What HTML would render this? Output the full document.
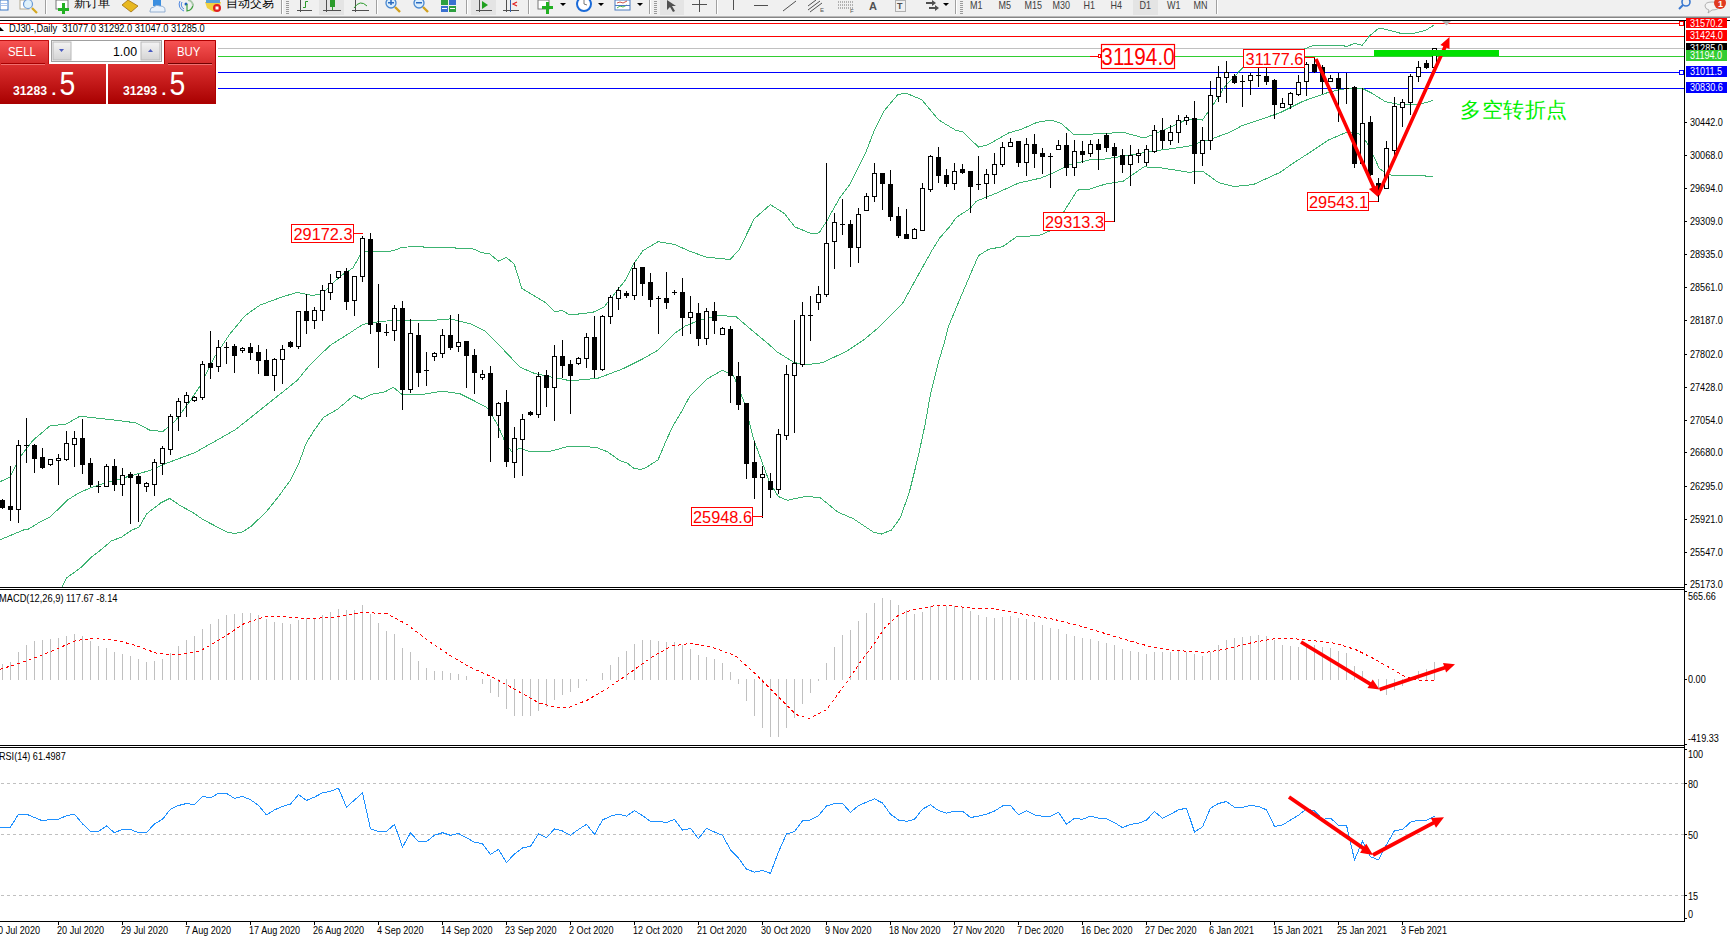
<!DOCTYPE html><html><head><meta charset="utf-8"><style>html,body{margin:0;padding:0;background:#fff;width:1730px;height:940px;overflow:hidden}svg{display:block}text{font-family:"Liberation Sans",sans-serif}</style></head><body>
<svg width="1730" height="940" viewBox="0 0 1730 940">
<rect x="0" y="0" width="1730" height="940" fill="#ffffff"/>
<g id="toolbar">
<rect x="0" y="0" width="1730" height="16" fill="#f0f0f0"/>
<rect x="0" y="16" width="1730" height="1" fill="#b9b9b9"/>
<rect x="0" y="17" width="1730" height="1" fill="#858585"/>
<g id="tb">
<rect x="45" y="0" width="1" height="14" fill="#a0a0a0"/><rect x="46" y="0" width="1" height="14" fill="#ffffff"/>
<rect x="281" y="0" width="1" height="14" fill="#a0a0a0"/><rect x="282" y="0" width="1" height="14" fill="#ffffff"/>
<rect x="376" y="0" width="1" height="14" fill="#a0a0a0"/><rect x="377" y="0" width="1" height="14" fill="#ffffff"/>
<rect x="466" y="0" width="1" height="14" fill="#a0a0a0"/><rect x="467" y="0" width="1" height="14" fill="#ffffff"/>
<rect x="528" y="0" width="1" height="14" fill="#a0a0a0"/><rect x="529" y="0" width="1" height="14" fill="#ffffff"/>
<rect x="649" y="0" width="1" height="14" fill="#a0a0a0"/><rect x="650" y="0" width="1" height="14" fill="#ffffff"/>
<rect x="716" y="0" width="1" height="14" fill="#a0a0a0"/><rect x="717" y="0" width="1" height="14" fill="#ffffff"/>
<rect x="955" y="0" width="1" height="14" fill="#a0a0a0"/><rect x="956" y="0" width="1" height="14" fill="#ffffff"/>
<rect x="1216" y="0" width="1" height="14" fill="#a0a0a0"/><rect x="1217" y="0" width="1" height="14" fill="#ffffff"/>
<rect x="286" y="1" width="3" height="1" fill="#9a9a9a"/>
<rect x="286" y="3" width="3" height="1" fill="#9a9a9a"/>
<rect x="286" y="5" width="3" height="1" fill="#9a9a9a"/>
<rect x="286" y="7" width="3" height="1" fill="#9a9a9a"/>
<rect x="286" y="9" width="3" height="1" fill="#9a9a9a"/>
<rect x="286" y="11" width="3" height="1" fill="#9a9a9a"/>
<rect x="286" y="13" width="3" height="1" fill="#9a9a9a"/>
<rect x="471" y="1" width="3" height="1" fill="#9a9a9a"/>
<rect x="471" y="3" width="3" height="1" fill="#9a9a9a"/>
<rect x="471" y="5" width="3" height="1" fill="#9a9a9a"/>
<rect x="471" y="7" width="3" height="1" fill="#9a9a9a"/>
<rect x="471" y="9" width="3" height="1" fill="#9a9a9a"/>
<rect x="471" y="11" width="3" height="1" fill="#9a9a9a"/>
<rect x="471" y="13" width="3" height="1" fill="#9a9a9a"/>
<rect x="654" y="1" width="3" height="1" fill="#9a9a9a"/>
<rect x="654" y="3" width="3" height="1" fill="#9a9a9a"/>
<rect x="654" y="5" width="3" height="1" fill="#9a9a9a"/>
<rect x="654" y="7" width="3" height="1" fill="#9a9a9a"/>
<rect x="654" y="9" width="3" height="1" fill="#9a9a9a"/>
<rect x="654" y="11" width="3" height="1" fill="#9a9a9a"/>
<rect x="654" y="13" width="3" height="1" fill="#9a9a9a"/>
<rect x="960" y="1" width="3" height="1" fill="#9a9a9a"/>
<rect x="960" y="3" width="3" height="1" fill="#9a9a9a"/>
<rect x="960" y="5" width="3" height="1" fill="#9a9a9a"/>
<rect x="960" y="7" width="3" height="1" fill="#9a9a9a"/>
<rect x="960" y="9" width="3" height="1" fill="#9a9a9a"/>
<rect x="960" y="11" width="3" height="1" fill="#9a9a9a"/>
<rect x="960" y="13" width="3" height="1" fill="#9a9a9a"/>
<rect x="319" y="0" width="25" height="15" fill="#e4e4e4"/>
<rect x="471" y="0" width="25" height="15" fill="#e4e4e4"/>
<rect x="660" y="0" width="24" height="15" fill="#e4e4e4"/>
<rect x="1133" y="0" width="25" height="15" fill="#e4e4e4"/>
<rect x="0" y="0" width="8" height="10" fill="#fff" stroke="#3a78c8" stroke-width="1"/><rect x="1" y="3" width="6" height="1" fill="#aac4ee"/><rect x="1" y="5" width="6" height="1" fill="#aac4ee"/>
<rect x="20" y="0" width="9" height="9" fill="#fff" stroke="#b0a890"/><circle cx="28" cy="4" r="4.5" fill="#dff1fb" stroke="#6a9ad6" stroke-width="1.2"/><line x1="32" y1="8" x2="37" y2="13" stroke="#d4a820" stroke-width="2.2"/>
<rect x="56" y="0" width="12" height="9" fill="#fff" stroke="#777"/><rect x="62" y="6" width="3" height="11" fill="#22b022" transform="translate(0,-3)"/><rect x="58" y="8" width="11" height="3" fill="#22b022"/>
<text transform="translate(74,7) scale(1,1)" font-size="12" fill="#000" text-anchor="start" font-weight="normal" style="font-family:"Liberation Sans",sans-serif" >新订单</text>
<path d="M122,5 L128,0 L138,6 L131,12 Z" fill="#e8b820" stroke="#a07010" stroke-width="0.8"/>
<rect x="153" y="0" width="8" height="6" fill="#3a8ee0"/><path d="M150,11 Q150,7 154,7 Q156,4 160,6 Q165,6 165,10 L165,12 L150,12 Z" fill="#eaf2fb" stroke="#7da0c8" stroke-width="0.8"/>
<path d="M180,1 A7,7 0 0 0 184,11" fill="none" stroke="#4d86e0" stroke-width="1"/><path d="M182,2 A5,5 0 0 0 184,9" fill="none" stroke="#4d86e0" stroke-width="1"/><circle cx="186" cy="4" r="1.5" fill="#2060c0"/><path d="M187,4 L187,11 Q193,10 193,4" fill="none" stroke="#40a040" stroke-width="1.2"/><path d="M188,0 A6,6 0 0 1 193,6" fill="none" stroke="#a8c8a8" stroke-width="2"/>
<path d="M205,2 L221,2 L219,9 L214,12 L207,8 Z" fill="#f0d040"/><rect x="206" y="0" width="14" height="3" fill="#5aa0d8"/><circle cx="217" cy="8" r="4" fill="#e02020"/><rect x="215.5" y="6.5" width="3" height="3" fill="#fff"/>
<text transform="translate(226,7) scale(1,1)" font-size="12" fill="#000" text-anchor="start" font-weight="normal" style="font-family:"Liberation Sans",sans-serif" >自动交易</text>
<path d="M300.5,0 L300.5,12 M297,10.5 L312,10.5" fill="none" stroke="#505050" stroke-width="1"/><path d="M303,7.5 L305.5,7.5 L305.5,1.5 L308,1.5" fill="none" stroke="#2a9a2a" stroke-width="1"/>
<path d="M326.5,0 L326.5,12 M323,10.5 L341,10.5" fill="none" stroke="#505050" stroke-width="1"/><rect x="330" y="0" width="5" height="7" fill="#2a9a2a"/><rect x="332" y="7" width="1" height="3" fill="#2a9a2a"/>
<path d="M355.5,0 L355.5,12 M352,10.5 L369,10.5" fill="none" stroke="#505050" stroke-width="1"/><path d="M354,8 Q360,-1 367,6" fill="none" stroke="#2a9a2a" stroke-width="1"/>
<circle cx="391" cy="3" r="5" fill="#dbeefc" stroke="#4a88d0" stroke-width="1.3"/><line x1="395" y1="7" x2="400" y2="12" stroke="#d0a020" stroke-width="2.4"/>
<rect x="388" y="2" width="6" height="1.5" fill="#2a6ac0"/>
<rect x="390.25" y="-1" width="1.5" height="6" fill="#2a6ac0"/>
<circle cx="419" cy="3" r="5" fill="#dbeefc" stroke="#4a88d0" stroke-width="1.3"/><line x1="423" y1="7" x2="428" y2="12" stroke="#d0a020" stroke-width="2.4"/>
<rect x="416" y="2" width="6" height="1.5" fill="#2a6ac0"/>
<rect x="441" y="0" width="7" height="5" fill="#2ea040"/><rect x="449" y="0" width="7" height="5" fill="#3a70d0"/><rect x="441" y="6" width="7" height="6" fill="#3a70d0"/><rect x="449" y="6" width="7" height="6" fill="#2ea040"/><rect x="442" y="8" width="5" height="1" fill="#fff"/><rect x="450" y="8" width="5" height="1" fill="#fff"/>
<path d="M479.5,0 L479.5,12 M476,10.5 L492,10.5" fill="none" stroke="#505050" stroke-width="1"/><path d="M482,1 L488,5 L482,9 Z" fill="#20a020"/>
<path d="M506.5,0 L506.5,12 M503,10.5 L519,10.5" fill="none" stroke="#505050" stroke-width="1"/><rect x="510" y="0" width="1" height="12" fill="#3060b0"/><path d="M517,2 L513,4 L517,6" fill="none" stroke="#e02020" stroke-width="1.2"/>
<rect x="538" y="0" width="11" height="9" fill="#fff" stroke="#777"/><rect x="546" y="2" width="3" height="12" fill="#22b022"/><rect x="542" y="6" width="11" height="3" fill="#22b022"/>
<path d="M560,3 L566,3 L563,6 Z" fill="#000"/>
<path d="M598,3 L604,3 L601,6 Z" fill="#000"/>
<path d="M637,3 L643,3 L640,6 Z" fill="#000"/>
<path d="M943,3 L949,3 L946,6 Z" fill="#000"/>
<circle cx="584" cy="4" r="7" fill="#fff" stroke="#1a6ad8" stroke-width="2"/><path d="M584,0 L584,4 L587,5" fill="none" stroke="#555" stroke-width="0.8"/>
<rect x="615" y="0" width="15" height="10" fill="#fff" stroke="#4a7ac0"/><path d="M617,3 L620,2 L623,3 L627,1" fill="none" stroke="#c03020" stroke-width="0.8"/><path d="M617,8 L620,6 L623,7 L627,5" fill="none" stroke="#20a020" stroke-width="0.8"/><rect x="615" y="5" width="15" height="1" fill="#4a7ac0"/>
<path d="M667,0 L676,6 L672,6 L675,11 L673,12 L670,7 L667,10 Z" fill="#505050"/>
<path d="M692,4.5 L707,4.5 M699.5,0 L699.5,12" stroke="#505050" stroke-width="1"/>
<rect x="733" y="0" width="1" height="10" fill="#505050"/>
<rect x="754" y="5" width="14" height="1" fill="#505050"/>
<line x1="783" y1="11" x2="796" y2="1" stroke="#505050" stroke-width="1"/>
<path d="M808,6 L816,0 M808,10 L820,1 M810,12 L822,3" stroke="#505050" stroke-width="1"/>
<text transform="translate(820,12) scale(1,1)" font-size="6" fill="#505050" text-anchor="start" font-weight="normal" style="font-family:"Liberation Sans",sans-serif" >E</text>
<path d="M838,2 L854,2 M838,5 L854,5 M838,8 L854,8" stroke="#707070" stroke-width="1" stroke-dasharray="1,1"/>
<text transform="translate(850,13) scale(1,1)" font-size="6" fill="#505050" text-anchor="start" font-weight="normal" style="font-family:"Liberation Sans",sans-serif" >F</text>
<text transform="translate(869,10) scale(1,1)" font-size="11" fill="#505050" text-anchor="start" font-weight="bold" style="font-family:"Liberation Sans",sans-serif" >A</text>
<rect x="895.5" y="0.5" width="10" height="11" fill="none" stroke="#707070" stroke-dasharray="1,1"/>
<text transform="translate(897,9) scale(1,1)" font-size="9" fill="#505050" text-anchor="start" font-weight="bold" style="font-family:"Liberation Sans",sans-serif" >T</text>
<path d="M926,2 L932,2 L932,0 L936,3 L932,6 L932,4 L926,4 Z M929,7 L935,7 L935,5 L939,8 L935,11 L935,9 L929,9 Z" fill="#505050"/>
<text transform="translate(970,8.5) scale(0.9,1)" font-size="10" fill="#404040" text-anchor="start" font-weight="normal" style="font-family:"Liberation Sans",sans-serif" >M1</text>
<text transform="translate(998.5,8.5) scale(0.9,1)" font-size="10" fill="#404040" text-anchor="start" font-weight="normal" style="font-family:"Liberation Sans",sans-serif" >M5</text>
<text transform="translate(1024.4,8.5) scale(0.9,1)" font-size="10" fill="#404040" text-anchor="start" font-weight="normal" style="font-family:"Liberation Sans",sans-serif" >M15</text>
<text transform="translate(1052.5,8.5) scale(0.9,1)" font-size="10" fill="#404040" text-anchor="start" font-weight="normal" style="font-family:"Liberation Sans",sans-serif" >M30</text>
<text transform="translate(1083.5,8.5) scale(0.9,1)" font-size="10" fill="#404040" text-anchor="start" font-weight="normal" style="font-family:"Liberation Sans",sans-serif" >H1</text>
<text transform="translate(1110.5,8.5) scale(0.9,1)" font-size="10" fill="#404040" text-anchor="start" font-weight="normal" style="font-family:"Liberation Sans",sans-serif" >H4</text>
<text transform="translate(1139.6,8.5) scale(0.9,1)" font-size="10" fill="#404040" text-anchor="start" font-weight="normal" style="font-family:"Liberation Sans",sans-serif" >D1</text>
<text transform="translate(1167,8.5) scale(0.9,1)" font-size="10" fill="#404040" text-anchor="start" font-weight="normal" style="font-family:"Liberation Sans",sans-serif" >W1</text>
<text transform="translate(1193.5,8.5) scale(0.9,1)" font-size="10" fill="#404040" text-anchor="start" font-weight="normal" style="font-family:"Liberation Sans",sans-serif" >MN</text>
<circle cx="1686" cy="2" r="4" fill="none" stroke="#3a78d0" stroke-width="1.6"/><line x1="1683" y1="5" x2="1679" y2="9" stroke="#3a78d0" stroke-width="2"/>
<path d="M1705,6 Q1705,2 1712,2 Q1719,2 1719,6 Q1719,10 1712,10 L1708,13 L1709,10 Q1705,9 1705,6 Z" fill="#f4f4f4" stroke="#a0a0a0" stroke-width="0.8"/>
<circle cx="1720" cy="3" r="6" fill="#e03a20"/>
<text transform="translate(1718,7) scale(1,1)" font-size="9" fill="#fff" text-anchor="start" font-weight="bold" style="font-family:"Liberation Sans",sans-serif" >1</text>
</g>
</g>
<g shape-rendering="crispEdges">
<rect x="0" y="20" width="1730" height="1" fill="#000"/>
<rect x="1684" y="20" width="1" height="902" fill="#000"/>
<rect x="0" y="587" width="1685" height="1" fill="#000"/>
<rect x="0" y="589" width="1685" height="1" fill="#000"/>
<rect x="0" y="745" width="1685" height="1" fill="#000"/>
<rect x="0" y="747" width="1685" height="1" fill="#000"/>
<rect x="0" y="921" width="1685" height="1" fill="#000"/>
</g>
<g shape-rendering="crispEdges">
<rect x="0" y="23" width="1684" height="1" fill="#ff0000"/>
<rect x="0" y="36" width="1684" height="1" fill="#ff0000"/>
<rect x="218" y="48" width="1466" height="1" fill="#c0c0c0"/>
<rect x="218" y="56" width="1466" height="1" fill="#32cd32"/>
<rect x="218" y="72" width="1466" height="1" fill="#0000ff"/>
<rect x="218" y="88" width="1466" height="1" fill="#0000ff"/>
</g>
<polyline points="0.0,481.7 10.0,477.2 20.0,457.0 33.0,440.3 50.0,425.8 66.0,424.2 80.0,416.2 100.0,418.4 120.0,420.7 136.0,422.9 150.0,430.3 163.0,431.4 175.0,421.3 190.0,401.2 200.0,386.0 215.0,356.2 230.0,333.8 245.0,315.7 260.0,305.1 280.0,297.7 297.0,292.3 312.0,295.5 322.0,294.0 340.0,276.4 353.0,267.9 362.0,251.9 389.5,251.4 395.8,249.9 401.6,247.4 415.0,246.5 423.0,246.5 424.0,247.4 455.0,247.4 456.0,248.6 471.0,248.6 475.6,249.7 481.4,252.6 489.5,253.8 498.7,261.3 506.2,257.2 514.3,264.2 521.8,288.4 540.3,299.4 545.0,302.3 555.0,311.9 562.0,310.4 570.0,315.0 593.0,312.3 604.0,307.0 626.0,279.4 634.0,263.4 643.0,250.6 658.0,241.7 674.0,244.3 691.0,251.7 706.0,257.0 730.0,259.6 739.0,250.0 754.3,218.7 770.4,204.6 784.6,213.7 794.7,226.8 810.9,233.5 819.0,232.9 826.0,222.2 840.0,197.4 850.2,183.8 865.5,153.2 874.0,131.1 884.3,110.6 897.9,94.5 906.4,93.3 921.7,99.6 938.7,120.0 955.7,130.2 962.6,131.9 978.7,147.2 988.1,144.7 1000.0,137.9 1008.7,132.9 1020.8,129.5 1037.0,122.4 1051.0,120.0 1061.2,123.4 1074.3,135.0 1089.5,134.1 1100.0,133.8 1123.0,132.3 1144.0,138.0 1157.4,132.9 1176.6,124.3 1188.0,118.9 1202.4,120.0 1213.0,105.1 1224.5,86.9 1242.7,67.8 1304.8,48.7 1314.0,45.2 1341.8,45.2 1346.4,46.6 1354.8,43.3 1362.2,45.4 1369.6,35.7 1378.8,28.3 1383.4,28.8 1401.0,33.4 1413.0,33.4 1426.0,30.2 1434.0,25.0" fill="none" stroke="#3cb371" stroke-width="1" shape-rendering="crispEdges"/>
<polyline points="0.0,539.8 23.5,530.0 28.0,529.3 40.0,522.0 50.2,516.9 68.0,499.7 78.1,493.4 90.9,487.6 106.1,482.5 116.3,480.0 130.0,476.0 150.0,470.5 165.0,463.8 180.0,458.2 195.0,452.6 220.0,438.4 235.3,429.8 254.5,414.5 273.6,399.2 287.0,388.6 297.6,380.0 310.0,364.7 330.0,345.5 350.0,332.8 363.0,324.3 380.0,321.5 400.0,320.0 420.0,320.0 437.0,320.0 450.0,318.9 470.0,323.6 485.0,331.0 500.0,346.0 520.0,367.2 535.0,373.6 550.0,376.8 565.0,379.6 570.0,380.9 597.7,378.3 623.2,368.7 642.3,359.1 657.2,350.6 674.3,333.6 684.9,326.2 697.7,320.9 719.0,315.5 736.0,316.6 750.9,329.4 770.0,345.3 776.0,351.2 794.0,362.4 805.5,364.7 818.3,363.4 823.0,362.4 846.8,351.2 863.6,340.0 877.0,328.9 902.5,303.4 923.0,266.4 932.2,250.0 940.0,237.6 950.4,225.8 956.2,217.4 970.0,208.6 976.4,201.2 996.6,193.1 1018.8,183.0 1041.0,178.0 1053.0,172.9 1069.3,164.8 1089.5,159.8 1100.0,159.7 1119.0,156.8 1153.6,151.1 1188.0,146.3 1214.9,137.7 1230.0,132.2 1241.7,125.8 1280.0,112.8 1303.4,101.1 1326.8,92.9 1340.9,89.4 1350.2,88.2 1361.9,88.2 1371.3,92.9 1385.3,101.6 1397.0,104.0 1420.5,104.0 1433.3,100.5" fill="none" stroke="#3cb371" stroke-width="1" shape-rendering="crispEdges"/>
<polyline points="62.3,586.8 66.7,577.9 80.7,567.7 90.9,557.6 102.3,548.7 111.2,541.0 121.4,537.2 131.6,530.2 139.2,527.0 146.8,513.7 160.8,502.9 169.7,498.4 179.9,505.4 192.6,512.4 202.8,519.4 226.9,532.1 234.6,533.4 242.2,532.1 250.7,526.6 266.0,512.2 277.5,497.8 290.9,479.6 298.5,464.3 306.2,443.2 313.9,430.8 323.4,417.4 336.9,409.7 354.1,395.3 361.8,399.2 371.3,394.4 384.8,391.9 393.4,387.3 402.0,394.4 420.0,394.9 442.0,391.1 460.0,393.8 475.0,401.3 487.0,407.7 497.0,423.6 505.0,441.7 512.0,452.3 520.0,448.1 530.0,451.9 550.0,451.3 568.5,446.4 582.6,446.4 596.6,447.5 607.7,451.9 619.6,460.4 627.2,463.0 634.0,468.5 640.9,469.4 645.1,468.1 657.9,460.0 662.1,450.2 667.2,438.3 673.2,425.5 680.9,412.8 690.0,395.9 706.8,379.2 722.5,370.2 733.6,375.8 744.8,403.7 753.7,439.5 769.4,482.0 778.3,496.5 787.3,500.3 805.1,496.5 820.0,497.5 837.9,512.1 853.5,518.8 873.6,532.2 881.5,534.0 891.5,530.0 900.4,517.7 909.4,492.0 918.3,456.2 925.0,424.9 930.6,393.6 938.4,362.3 945.1,340.0 948.5,326.4 960.0,298.8 972.3,269.9 978.4,255.8 988.5,249.3 1002.6,246.7 1016.8,236.6 1039.0,235.6 1053.0,229.5 1065.3,209.3 1077.4,190.1 1089.5,189.1 1105.7,184.0 1123.0,181.3 1144.0,166.8 1161.3,167.9 1188.0,172.1 1203.4,171.7 1218.7,182.7 1233.9,186.5 1253.2,184.6 1280.0,172.4 1291.7,164.2 1315.1,149.0 1329.1,139.7 1345.5,132.7 1358.4,133.2 1366.6,142.0 1373.6,156.0 1379.5,168.9 1391.2,175.3 1420.5,175.3 1433.3,177.1" fill="none" stroke="#3cb371" stroke-width="1" shape-rendering="crispEdges"/>
<g shape-rendering="crispEdges">
<rect x="2" y="499" width="1" height="10" fill="#000"/>
<rect x="0" y="500" width="5" height="8" fill="#000"/>
<rect x="10" y="466" width="1" height="55" fill="#000"/>
<rect x="8" y="506" width="5" height="4" fill="#000"/>
<rect x="18" y="440" width="1" height="83" fill="#000"/>
<rect x="16" y="445" width="5" height="65" fill="#000"/>
<rect x="17" y="446" width="3" height="63" fill="#fff"/>
<rect x="26" y="418" width="1" height="45" fill="#000"/>
<rect x="24" y="445" width="5" height="1" fill="#000"/>
<rect x="34" y="444" width="1" height="29" fill="#000"/>
<rect x="32" y="445" width="5" height="14" fill="#000"/>
<rect x="42" y="448" width="1" height="21" fill="#000"/>
<rect x="40" y="457" width="5" height="11" fill="#000"/>
<rect x="50" y="459" width="1" height="7" fill="#000"/>
<rect x="48" y="459" width="5" height="6" fill="#000"/>
<rect x="49" y="460" width="3" height="4" fill="#fff"/>
<rect x="58" y="454" width="1" height="31" fill="#000"/>
<rect x="56" y="458" width="5" height="3" fill="#000"/>
<rect x="57" y="459" width="3" height="1" fill="#fff"/>
<rect x="66" y="431" width="1" height="30" fill="#000"/>
<rect x="64" y="443" width="5" height="17" fill="#000"/>
<rect x="65" y="444" width="3" height="15" fill="#fff"/>
<rect x="74" y="431" width="1" height="36" fill="#000"/>
<rect x="72" y="438" width="5" height="7" fill="#000"/>
<rect x="73" y="439" width="3" height="5" fill="#fff"/>
<rect x="82" y="419" width="1" height="55" fill="#000"/>
<rect x="80" y="438" width="5" height="27" fill="#000"/>
<rect x="90" y="458" width="1" height="29" fill="#000"/>
<rect x="88" y="463" width="5" height="22" fill="#000"/>
<rect x="98" y="481" width="1" height="12" fill="#000"/>
<rect x="96" y="486" width="5" height="1" fill="#000"/>
<rect x="106" y="464" width="1" height="23" fill="#000"/>
<rect x="104" y="466" width="5" height="21" fill="#000"/>
<rect x="105" y="467" width="3" height="19" fill="#fff"/>
<rect x="114" y="459" width="1" height="32" fill="#000"/>
<rect x="112" y="466" width="5" height="19" fill="#000"/>
<rect x="122" y="468" width="1" height="28" fill="#000"/>
<rect x="120" y="475" width="5" height="10" fill="#000"/>
<rect x="121" y="476" width="3" height="8" fill="#fff"/>
<rect x="130" y="472" width="1" height="52" fill="#000"/>
<rect x="128" y="474" width="5" height="4" fill="#000"/>
<rect x="138" y="474" width="1" height="48" fill="#000"/>
<rect x="136" y="476" width="5" height="8" fill="#000"/>
<rect x="146" y="482" width="1" height="10" fill="#000"/>
<rect x="144" y="483" width="5" height="4" fill="#000"/>
<rect x="145" y="484" width="3" height="2" fill="#fff"/>
<rect x="154" y="459" width="1" height="37" fill="#000"/>
<rect x="152" y="462" width="5" height="23" fill="#000"/>
<rect x="153" y="463" width="3" height="21" fill="#fff"/>
<rect x="162" y="446" width="1" height="29" fill="#000"/>
<rect x="160" y="448" width="5" height="16" fill="#000"/>
<rect x="161" y="449" width="3" height="14" fill="#fff"/>
<rect x="170" y="414" width="1" height="41" fill="#000"/>
<rect x="168" y="416" width="5" height="34" fill="#000"/>
<rect x="169" y="417" width="3" height="32" fill="#fff"/>
<rect x="178" y="398" width="1" height="33" fill="#000"/>
<rect x="176" y="401" width="5" height="16" fill="#000"/>
<rect x="177" y="402" width="3" height="14" fill="#fff"/>
<rect x="186" y="392" width="1" height="25" fill="#000"/>
<rect x="184" y="395" width="5" height="8" fill="#000"/>
<rect x="185" y="396" width="3" height="6" fill="#fff"/>
<rect x="194" y="396" width="1" height="6" fill="#000"/>
<rect x="192" y="397" width="5" height="4" fill="#000"/>
<rect x="193" y="398" width="3" height="2" fill="#fff"/>
<rect x="202" y="361" width="1" height="39" fill="#000"/>
<rect x="200" y="364" width="5" height="34" fill="#000"/>
<rect x="201" y="365" width="3" height="32" fill="#fff"/>
<rect x="210" y="331" width="1" height="48" fill="#000"/>
<rect x="208" y="363" width="5" height="5" fill="#000"/>
<rect x="218" y="340" width="1" height="32" fill="#000"/>
<rect x="216" y="347" width="5" height="20" fill="#000"/>
<rect x="217" y="348" width="3" height="18" fill="#fff"/>
<rect x="226" y="342" width="1" height="22" fill="#000"/>
<rect x="224" y="347" width="5" height="1" fill="#000"/>
<rect x="234" y="344" width="1" height="29" fill="#000"/>
<rect x="232" y="346" width="5" height="10" fill="#000"/>
<rect x="242" y="347" width="1" height="6" fill="#000"/>
<rect x="240" y="348" width="5" height="3" fill="#000"/>
<rect x="241" y="349" width="3" height="1" fill="#fff"/>
<rect x="250" y="343" width="1" height="17" fill="#000"/>
<rect x="248" y="347" width="5" height="6" fill="#000"/>
<rect x="258" y="345" width="1" height="29" fill="#000"/>
<rect x="256" y="352" width="5" height="9" fill="#000"/>
<rect x="266" y="349" width="1" height="27" fill="#000"/>
<rect x="264" y="360" width="5" height="16" fill="#000"/>
<rect x="274" y="358" width="1" height="33" fill="#000"/>
<rect x="272" y="359" width="5" height="17" fill="#000"/>
<rect x="273" y="360" width="3" height="15" fill="#fff"/>
<rect x="282" y="345" width="1" height="39" fill="#000"/>
<rect x="280" y="349" width="5" height="11" fill="#000"/>
<rect x="281" y="350" width="3" height="9" fill="#fff"/>
<rect x="290" y="341" width="1" height="7" fill="#000"/>
<rect x="288" y="342" width="5" height="5" fill="#000"/>
<rect x="298" y="311" width="1" height="38" fill="#000"/>
<rect x="296" y="311" width="5" height="36" fill="#000"/>
<rect x="297" y="312" width="3" height="34" fill="#fff"/>
<rect x="306" y="294" width="1" height="40" fill="#000"/>
<rect x="304" y="311" width="5" height="10" fill="#000"/>
<rect x="314" y="307" width="1" height="22" fill="#000"/>
<rect x="312" y="310" width="5" height="11" fill="#000"/>
<rect x="313" y="311" width="3" height="9" fill="#fff"/>
<rect x="322" y="285" width="1" height="36" fill="#000"/>
<rect x="320" y="290" width="5" height="21" fill="#000"/>
<rect x="321" y="291" width="3" height="19" fill="#fff"/>
<rect x="330" y="274" width="1" height="26" fill="#000"/>
<rect x="328" y="283" width="5" height="10" fill="#000"/>
<rect x="329" y="284" width="3" height="8" fill="#fff"/>
<rect x="338" y="271" width="1" height="8" fill="#000"/>
<rect x="336" y="271" width="5" height="7" fill="#000"/>
<rect x="337" y="272" width="3" height="5" fill="#fff"/>
<rect x="346" y="268" width="1" height="42" fill="#000"/>
<rect x="344" y="271" width="5" height="31" fill="#000"/>
<rect x="354" y="276" width="1" height="40" fill="#000"/>
<rect x="352" y="276" width="5" height="25" fill="#000"/>
<rect x="353" y="277" width="3" height="23" fill="#fff"/>
<rect x="362" y="236" width="1" height="46" fill="#000"/>
<rect x="360" y="238" width="5" height="39" fill="#000"/>
<rect x="361" y="239" width="3" height="37" fill="#fff"/>
<rect x="370" y="233" width="1" height="101" fill="#000"/>
<rect x="368" y="239" width="5" height="86" fill="#000"/>
<rect x="378" y="284" width="1" height="84" fill="#000"/>
<rect x="376" y="323" width="5" height="9" fill="#000"/>
<rect x="386" y="324" width="1" height="12" fill="#000"/>
<rect x="384" y="332" width="5" height="1" fill="#000"/>
<rect x="394" y="305" width="1" height="36" fill="#000"/>
<rect x="392" y="308" width="5" height="23" fill="#000"/>
<rect x="393" y="309" width="3" height="21" fill="#fff"/>
<rect x="402" y="301" width="1" height="109" fill="#000"/>
<rect x="400" y="308" width="5" height="82" fill="#000"/>
<rect x="410" y="319" width="1" height="74" fill="#000"/>
<rect x="408" y="333" width="5" height="57" fill="#000"/>
<rect x="409" y="334" width="3" height="55" fill="#fff"/>
<rect x="418" y="323" width="1" height="64" fill="#000"/>
<rect x="416" y="335" width="5" height="38" fill="#000"/>
<rect x="426" y="352" width="1" height="34" fill="#000"/>
<rect x="424" y="370" width="5" height="1" fill="#000"/>
<rect x="434" y="352" width="1" height="9" fill="#000"/>
<rect x="432" y="353" width="5" height="4" fill="#000"/>
<rect x="433" y="354" width="3" height="2" fill="#fff"/>
<rect x="442" y="329" width="1" height="29" fill="#000"/>
<rect x="440" y="335" width="5" height="19" fill="#000"/>
<rect x="441" y="336" width="3" height="17" fill="#fff"/>
<rect x="450" y="315" width="1" height="35" fill="#000"/>
<rect x="448" y="335" width="5" height="13" fill="#000"/>
<rect x="458" y="314" width="1" height="38" fill="#000"/>
<rect x="456" y="342" width="5" height="5" fill="#000"/>
<rect x="457" y="343" width="3" height="3" fill="#fff"/>
<rect x="466" y="341" width="1" height="47" fill="#000"/>
<rect x="464" y="341" width="5" height="15" fill="#000"/>
<rect x="474" y="349" width="1" height="45" fill="#000"/>
<rect x="472" y="355" width="5" height="18" fill="#000"/>
<rect x="482" y="370" width="1" height="10" fill="#000"/>
<rect x="480" y="374" width="5" height="4" fill="#000"/>
<rect x="481" y="375" width="3" height="2" fill="#fff"/>
<rect x="490" y="366" width="1" height="96" fill="#000"/>
<rect x="488" y="373" width="5" height="43" fill="#000"/>
<rect x="498" y="402" width="1" height="36" fill="#000"/>
<rect x="496" y="403" width="5" height="13" fill="#000"/>
<rect x="497" y="404" width="3" height="11" fill="#fff"/>
<rect x="506" y="390" width="1" height="77" fill="#000"/>
<rect x="504" y="402" width="5" height="60" fill="#000"/>
<rect x="514" y="427" width="1" height="51" fill="#000"/>
<rect x="512" y="438" width="5" height="25" fill="#000"/>
<rect x="513" y="439" width="3" height="23" fill="#fff"/>
<rect x="522" y="414" width="1" height="62" fill="#000"/>
<rect x="520" y="419" width="5" height="21" fill="#000"/>
<rect x="521" y="420" width="3" height="19" fill="#fff"/>
<rect x="530" y="411" width="1" height="5" fill="#000"/>
<rect x="528" y="412" width="5" height="3" fill="#000"/>
<rect x="538" y="372" width="1" height="46" fill="#000"/>
<rect x="536" y="376" width="5" height="39" fill="#000"/>
<rect x="537" y="377" width="3" height="37" fill="#fff"/>
<rect x="546" y="370" width="1" height="37" fill="#000"/>
<rect x="544" y="375" width="5" height="13" fill="#000"/>
<rect x="554" y="345" width="1" height="76" fill="#000"/>
<rect x="552" y="356" width="5" height="32" fill="#000"/>
<rect x="553" y="357" width="3" height="30" fill="#fff"/>
<rect x="562" y="340" width="1" height="38" fill="#000"/>
<rect x="560" y="356" width="5" height="10" fill="#000"/>
<rect x="570" y="360" width="1" height="54" fill="#000"/>
<rect x="568" y="364" width="5" height="12" fill="#000"/>
<rect x="578" y="357" width="1" height="8" fill="#000"/>
<rect x="576" y="358" width="5" height="6" fill="#000"/>
<rect x="577" y="359" width="3" height="4" fill="#fff"/>
<rect x="586" y="333" width="1" height="35" fill="#000"/>
<rect x="584" y="337" width="5" height="22" fill="#000"/>
<rect x="585" y="338" width="3" height="20" fill="#fff"/>
<rect x="594" y="316" width="1" height="62" fill="#000"/>
<rect x="592" y="337" width="5" height="33" fill="#000"/>
<rect x="602" y="315" width="1" height="56" fill="#000"/>
<rect x="600" y="316" width="5" height="54" fill="#000"/>
<rect x="601" y="317" width="3" height="52" fill="#fff"/>
<rect x="610" y="295" width="1" height="29" fill="#000"/>
<rect x="608" y="297" width="5" height="20" fill="#000"/>
<rect x="609" y="298" width="3" height="18" fill="#fff"/>
<rect x="618" y="287" width="1" height="23" fill="#000"/>
<rect x="616" y="290" width="5" height="9" fill="#000"/>
<rect x="617" y="291" width="3" height="7" fill="#fff"/>
<rect x="626" y="291" width="1" height="7" fill="#000"/>
<rect x="624" y="293" width="5" height="3" fill="#000"/>
<rect x="634" y="262" width="1" height="38" fill="#000"/>
<rect x="632" y="268" width="5" height="28" fill="#000"/>
<rect x="633" y="269" width="3" height="26" fill="#fff"/>
<rect x="642" y="267" width="1" height="29" fill="#000"/>
<rect x="640" y="267" width="5" height="17" fill="#000"/>
<rect x="650" y="273" width="1" height="34" fill="#000"/>
<rect x="648" y="282" width="5" height="18" fill="#000"/>
<rect x="658" y="296" width="1" height="38" fill="#000"/>
<rect x="656" y="298" width="5" height="1" fill="#000"/>
<rect x="666" y="272" width="1" height="37" fill="#000"/>
<rect x="664" y="298" width="5" height="5" fill="#000"/>
<rect x="674" y="290" width="1" height="5" fill="#000"/>
<rect x="672" y="292" width="5" height="1" fill="#000"/>
<rect x="682" y="278" width="1" height="58" fill="#000"/>
<rect x="680" y="292" width="5" height="26" fill="#000"/>
<rect x="690" y="296" width="1" height="38" fill="#000"/>
<rect x="688" y="312" width="5" height="6" fill="#000"/>
<rect x="689" y="313" width="3" height="4" fill="#fff"/>
<rect x="698" y="303" width="1" height="43" fill="#000"/>
<rect x="696" y="313" width="5" height="26" fill="#000"/>
<rect x="706" y="308" width="1" height="37" fill="#000"/>
<rect x="704" y="311" width="5" height="28" fill="#000"/>
<rect x="705" y="312" width="3" height="26" fill="#fff"/>
<rect x="714" y="302" width="1" height="32" fill="#000"/>
<rect x="712" y="311" width="5" height="10" fill="#000"/>
<rect x="722" y="327" width="1" height="8" fill="#000"/>
<rect x="720" y="328" width="5" height="7" fill="#000"/>
<rect x="721" y="329" width="3" height="5" fill="#fff"/>
<rect x="730" y="326" width="1" height="77" fill="#000"/>
<rect x="728" y="329" width="5" height="47" fill="#000"/>
<rect x="738" y="362" width="1" height="48" fill="#000"/>
<rect x="736" y="376" width="5" height="29" fill="#000"/>
<rect x="746" y="403" width="1" height="76" fill="#000"/>
<rect x="744" y="403" width="5" height="61" fill="#000"/>
<rect x="754" y="441" width="1" height="58" fill="#000"/>
<rect x="752" y="462" width="5" height="16" fill="#000"/>
<rect x="762" y="466" width="1" height="52" fill="#000"/>
<rect x="760" y="474" width="5" height="4" fill="#000"/>
<rect x="761" y="475" width="3" height="2" fill="#fff"/>
<rect x="770" y="473" width="1" height="25" fill="#000"/>
<rect x="768" y="481" width="5" height="9" fill="#000"/>
<rect x="778" y="429" width="1" height="65" fill="#000"/>
<rect x="776" y="434" width="5" height="56" fill="#000"/>
<rect x="777" y="435" width="3" height="54" fill="#fff"/>
<rect x="786" y="365" width="1" height="75" fill="#000"/>
<rect x="784" y="374" width="5" height="62" fill="#000"/>
<rect x="785" y="375" width="3" height="60" fill="#fff"/>
<rect x="794" y="320" width="1" height="113" fill="#000"/>
<rect x="792" y="363" width="5" height="13" fill="#000"/>
<rect x="793" y="364" width="3" height="11" fill="#fff"/>
<rect x="802" y="302" width="1" height="65" fill="#000"/>
<rect x="800" y="315" width="5" height="50" fill="#000"/>
<rect x="801" y="316" width="3" height="48" fill="#fff"/>
<rect x="810" y="296" width="1" height="45" fill="#000"/>
<rect x="808" y="315" width="5" height="1" fill="#000"/>
<rect x="818" y="286" width="1" height="24" fill="#000"/>
<rect x="816" y="294" width="5" height="9" fill="#000"/>
<rect x="817" y="295" width="3" height="7" fill="#fff"/>
<rect x="826" y="163" width="1" height="134" fill="#000"/>
<rect x="824" y="243" width="5" height="52" fill="#000"/>
<rect x="825" y="244" width="3" height="50" fill="#fff"/>
<rect x="834" y="213" width="1" height="56" fill="#000"/>
<rect x="832" y="222" width="5" height="20" fill="#000"/>
<rect x="833" y="223" width="3" height="18" fill="#fff"/>
<rect x="842" y="199" width="1" height="36" fill="#000"/>
<rect x="840" y="224" width="5" height="1" fill="#000"/>
<rect x="850" y="220" width="1" height="47" fill="#000"/>
<rect x="848" y="224" width="5" height="24" fill="#000"/>
<rect x="858" y="208" width="1" height="55" fill="#000"/>
<rect x="856" y="214" width="5" height="34" fill="#000"/>
<rect x="857" y="215" width="3" height="32" fill="#fff"/>
<rect x="866" y="193" width="1" height="18" fill="#000"/>
<rect x="864" y="196" width="5" height="15" fill="#000"/>
<rect x="865" y="197" width="3" height="13" fill="#fff"/>
<rect x="874" y="163" width="1" height="39" fill="#000"/>
<rect x="872" y="173" width="5" height="24" fill="#000"/>
<rect x="873" y="174" width="3" height="22" fill="#fff"/>
<rect x="882" y="173" width="1" height="37" fill="#000"/>
<rect x="880" y="173" width="5" height="11" fill="#000"/>
<rect x="890" y="170" width="1" height="51" fill="#000"/>
<rect x="888" y="184" width="5" height="33" fill="#000"/>
<rect x="898" y="207" width="1" height="31" fill="#000"/>
<rect x="896" y="216" width="5" height="20" fill="#000"/>
<rect x="906" y="209" width="1" height="30" fill="#000"/>
<rect x="904" y="234" width="5" height="5" fill="#000"/>
<rect x="914" y="228" width="1" height="11" fill="#000"/>
<rect x="912" y="229" width="5" height="10" fill="#000"/>
<rect x="913" y="230" width="3" height="8" fill="#fff"/>
<rect x="922" y="183" width="1" height="48" fill="#000"/>
<rect x="920" y="188" width="5" height="43" fill="#000"/>
<rect x="921" y="189" width="3" height="41" fill="#fff"/>
<rect x="930" y="155" width="1" height="37" fill="#000"/>
<rect x="928" y="156" width="5" height="34" fill="#000"/>
<rect x="929" y="157" width="3" height="32" fill="#fff"/>
<rect x="938" y="147" width="1" height="36" fill="#000"/>
<rect x="936" y="157" width="5" height="19" fill="#000"/>
<rect x="946" y="169" width="1" height="18" fill="#000"/>
<rect x="944" y="175" width="5" height="9" fill="#000"/>
<rect x="954" y="163" width="1" height="27" fill="#000"/>
<rect x="952" y="171" width="5" height="13" fill="#000"/>
<rect x="953" y="172" width="3" height="11" fill="#fff"/>
<rect x="962" y="164" width="1" height="10" fill="#000"/>
<rect x="960" y="169" width="5" height="4" fill="#000"/>
<rect x="970" y="171" width="1" height="42" fill="#000"/>
<rect x="968" y="171" width="5" height="16" fill="#000"/>
<rect x="978" y="156" width="1" height="34" fill="#000"/>
<rect x="976" y="184" width="5" height="1" fill="#000"/>
<rect x="986" y="169" width="1" height="30" fill="#000"/>
<rect x="984" y="174" width="5" height="10" fill="#000"/>
<rect x="985" y="175" width="3" height="8" fill="#fff"/>
<rect x="994" y="153" width="1" height="31" fill="#000"/>
<rect x="992" y="164" width="5" height="11" fill="#000"/>
<rect x="993" y="165" width="3" height="9" fill="#fff"/>
<rect x="1002" y="142" width="1" height="25" fill="#000"/>
<rect x="1000" y="147" width="5" height="18" fill="#000"/>
<rect x="1001" y="148" width="3" height="16" fill="#fff"/>
<rect x="1010" y="138" width="1" height="9" fill="#000"/>
<rect x="1008" y="142" width="5" height="5" fill="#000"/>
<rect x="1009" y="143" width="3" height="3" fill="#fff"/>
<rect x="1018" y="141" width="1" height="26" fill="#000"/>
<rect x="1016" y="141" width="5" height="22" fill="#000"/>
<rect x="1026" y="138" width="1" height="38" fill="#000"/>
<rect x="1024" y="144" width="5" height="19" fill="#000"/>
<rect x="1025" y="145" width="3" height="17" fill="#fff"/>
<rect x="1034" y="134" width="1" height="34" fill="#000"/>
<rect x="1032" y="144" width="5" height="10" fill="#000"/>
<rect x="1042" y="148" width="1" height="26" fill="#000"/>
<rect x="1040" y="153" width="5" height="4" fill="#000"/>
<rect x="1050" y="153" width="1" height="35" fill="#000"/>
<rect x="1048" y="156" width="5" height="1" fill="#000"/>
<rect x="1058" y="140" width="1" height="10" fill="#000"/>
<rect x="1056" y="145" width="5" height="5" fill="#000"/>
<rect x="1057" y="146" width="3" height="3" fill="#fff"/>
<rect x="1066" y="133" width="1" height="43" fill="#000"/>
<rect x="1064" y="145" width="5" height="23" fill="#000"/>
<rect x="1074" y="140" width="1" height="36" fill="#000"/>
<rect x="1072" y="151" width="5" height="17" fill="#000"/>
<rect x="1073" y="152" width="3" height="15" fill="#fff"/>
<rect x="1082" y="141" width="1" height="22" fill="#000"/>
<rect x="1080" y="151" width="5" height="4" fill="#000"/>
<rect x="1090" y="140" width="1" height="17" fill="#000"/>
<rect x="1088" y="144" width="5" height="10" fill="#000"/>
<rect x="1089" y="145" width="3" height="8" fill="#fff"/>
<rect x="1098" y="139" width="1" height="31" fill="#000"/>
<rect x="1096" y="144" width="5" height="6" fill="#000"/>
<rect x="1106" y="133" width="1" height="19" fill="#000"/>
<rect x="1104" y="135" width="5" height="13" fill="#000"/>
<rect x="1114" y="143" width="1" height="79" fill="#000"/>
<rect x="1112" y="147" width="5" height="9" fill="#000"/>
<rect x="1122" y="149" width="1" height="24" fill="#000"/>
<rect x="1120" y="155" width="5" height="10" fill="#000"/>
<rect x="1130" y="145" width="1" height="41" fill="#000"/>
<rect x="1128" y="155" width="5" height="10" fill="#000"/>
<rect x="1129" y="156" width="3" height="8" fill="#fff"/>
<rect x="1138" y="149" width="1" height="14" fill="#000"/>
<rect x="1136" y="153" width="5" height="3" fill="#000"/>
<rect x="1137" y="154" width="3" height="1" fill="#fff"/>
<rect x="1146" y="145" width="1" height="21" fill="#000"/>
<rect x="1144" y="149" width="5" height="14" fill="#000"/>
<rect x="1145" y="150" width="3" height="12" fill="#fff"/>
<rect x="1154" y="125" width="1" height="28" fill="#000"/>
<rect x="1152" y="130" width="5" height="22" fill="#000"/>
<rect x="1153" y="131" width="3" height="20" fill="#fff"/>
<rect x="1162" y="118" width="1" height="31" fill="#000"/>
<rect x="1160" y="130" width="5" height="11" fill="#000"/>
<rect x="1170" y="125" width="1" height="20" fill="#000"/>
<rect x="1168" y="132" width="5" height="9" fill="#000"/>
<rect x="1169" y="133" width="3" height="7" fill="#fff"/>
<rect x="1178" y="115" width="1" height="28" fill="#000"/>
<rect x="1176" y="120" width="5" height="13" fill="#000"/>
<rect x="1177" y="121" width="3" height="11" fill="#fff"/>
<rect x="1186" y="115" width="1" height="10" fill="#000"/>
<rect x="1184" y="117" width="5" height="4" fill="#000"/>
<rect x="1185" y="118" width="3" height="2" fill="#fff"/>
<rect x="1194" y="101" width="1" height="83" fill="#000"/>
<rect x="1192" y="118" width="5" height="36" fill="#000"/>
<rect x="1202" y="127" width="1" height="39" fill="#000"/>
<rect x="1200" y="140" width="5" height="14" fill="#000"/>
<rect x="1201" y="141" width="3" height="12" fill="#fff"/>
<rect x="1210" y="81" width="1" height="69" fill="#000"/>
<rect x="1208" y="95" width="5" height="46" fill="#000"/>
<rect x="1209" y="96" width="3" height="44" fill="#fff"/>
<rect x="1218" y="66" width="1" height="36" fill="#000"/>
<rect x="1216" y="77" width="5" height="20" fill="#000"/>
<rect x="1217" y="78" width="3" height="18" fill="#fff"/>
<rect x="1226" y="61" width="1" height="42" fill="#000"/>
<rect x="1224" y="72" width="5" height="6" fill="#000"/>
<rect x="1225" y="73" width="3" height="4" fill="#fff"/>
<rect x="1234" y="74" width="1" height="10" fill="#000"/>
<rect x="1232" y="76" width="5" height="7" fill="#000"/>
<rect x="1242" y="75" width="1" height="32" fill="#000"/>
<rect x="1240" y="81" width="5" height="1" fill="#000"/>
<rect x="1250" y="73" width="1" height="22" fill="#000"/>
<rect x="1248" y="75" width="5" height="6" fill="#000"/>
<rect x="1249" y="76" width="3" height="4" fill="#fff"/>
<rect x="1258" y="68" width="1" height="19" fill="#000"/>
<rect x="1256" y="75" width="5" height="1" fill="#000"/>
<rect x="1266" y="64" width="1" height="21" fill="#000"/>
<rect x="1264" y="76" width="5" height="6" fill="#000"/>
<rect x="1274" y="79" width="1" height="40" fill="#000"/>
<rect x="1272" y="80" width="5" height="25" fill="#000"/>
<rect x="1282" y="98" width="1" height="10" fill="#000"/>
<rect x="1280" y="103" width="5" height="5" fill="#000"/>
<rect x="1281" y="104" width="3" height="3" fill="#fff"/>
<rect x="1290" y="92" width="1" height="17" fill="#000"/>
<rect x="1288" y="93" width="5" height="12" fill="#000"/>
<rect x="1289" y="94" width="3" height="10" fill="#fff"/>
<rect x="1298" y="75" width="1" height="21" fill="#000"/>
<rect x="1296" y="82" width="5" height="13" fill="#000"/>
<rect x="1297" y="83" width="3" height="11" fill="#fff"/>
<rect x="1306" y="62" width="1" height="34" fill="#000"/>
<rect x="1304" y="64" width="5" height="18" fill="#000"/>
<rect x="1305" y="65" width="3" height="16" fill="#fff"/>
<rect x="1314" y="58" width="1" height="15" fill="#000"/>
<rect x="1312" y="64" width="5" height="8" fill="#000"/>
<rect x="1322" y="65" width="1" height="29" fill="#000"/>
<rect x="1320" y="67" width="5" height="15" fill="#000"/>
<rect x="1330" y="75" width="1" height="7" fill="#000"/>
<rect x="1328" y="78" width="5" height="4" fill="#000"/>
<rect x="1329" y="79" width="3" height="2" fill="#fff"/>
<rect x="1338" y="73" width="1" height="49" fill="#000"/>
<rect x="1336" y="78" width="5" height="11" fill="#000"/>
<rect x="1346" y="73" width="1" height="31" fill="#000"/>
<rect x="1344" y="88" width="5" height="1" fill="#000"/>
<rect x="1354" y="86" width="1" height="82" fill="#000"/>
<rect x="1352" y="87" width="5" height="77" fill="#000"/>
<rect x="1362" y="88" width="1" height="76" fill="#000"/>
<rect x="1360" y="123" width="5" height="41" fill="#000"/>
<rect x="1361" y="124" width="3" height="39" fill="#fff"/>
<rect x="1370" y="116" width="1" height="60" fill="#000"/>
<rect x="1368" y="122" width="5" height="53" fill="#000"/>
<rect x="1378" y="178" width="1" height="24" fill="#000"/>
<rect x="1376" y="183" width="5" height="6" fill="#000"/>
<rect x="1386" y="141" width="1" height="48" fill="#000"/>
<rect x="1384" y="148" width="5" height="41" fill="#000"/>
<rect x="1385" y="149" width="3" height="39" fill="#fff"/>
<rect x="1394" y="97" width="1" height="59" fill="#000"/>
<rect x="1392" y="106" width="5" height="45" fill="#000"/>
<rect x="1393" y="107" width="3" height="43" fill="#fff"/>
<rect x="1402" y="99" width="1" height="28" fill="#000"/>
<rect x="1400" y="102" width="5" height="6" fill="#000"/>
<rect x="1401" y="103" width="3" height="4" fill="#fff"/>
<rect x="1410" y="74" width="1" height="41" fill="#000"/>
<rect x="1408" y="76" width="5" height="27" fill="#000"/>
<rect x="1409" y="77" width="3" height="25" fill="#fff"/>
<rect x="1418" y="61" width="1" height="21" fill="#000"/>
<rect x="1416" y="67" width="5" height="10" fill="#000"/>
<rect x="1417" y="68" width="3" height="8" fill="#fff"/>
<rect x="1426" y="60" width="1" height="9" fill="#000"/>
<rect x="1424" y="63" width="5" height="5" fill="#000"/>
<rect x="1434" y="48" width="1" height="22" fill="#000"/>
<rect x="1432" y="48" width="5" height="20" fill="#000"/>
<rect x="1433" y="49" width="3" height="18" fill="#fff"/>
</g>
<g shape-rendering="crispEdges">
<rect x="2" y="664" width="1" height="16" fill="#c0c0c0"/>
<rect x="10" y="662" width="1" height="18" fill="#c0c0c0"/>
<rect x="18" y="652" width="1" height="28" fill="#c0c0c0"/>
<rect x="26" y="645" width="1" height="35" fill="#c0c0c0"/>
<rect x="34" y="641" width="1" height="39" fill="#c0c0c0"/>
<rect x="42" y="640" width="1" height="40" fill="#c0c0c0"/>
<rect x="50" y="639" width="1" height="41" fill="#c0c0c0"/>
<rect x="58" y="638" width="1" height="42" fill="#c0c0c0"/>
<rect x="66" y="636" width="1" height="44" fill="#c0c0c0"/>
<rect x="74" y="634" width="1" height="46" fill="#c0c0c0"/>
<rect x="82" y="636" width="1" height="44" fill="#c0c0c0"/>
<rect x="90" y="641" width="1" height="39" fill="#c0c0c0"/>
<rect x="98" y="646" width="1" height="34" fill="#c0c0c0"/>
<rect x="106" y="648" width="1" height="32" fill="#c0c0c0"/>
<rect x="114" y="652" width="1" height="28" fill="#c0c0c0"/>
<rect x="122" y="654" width="1" height="26" fill="#c0c0c0"/>
<rect x="130" y="656" width="1" height="24" fill="#c0c0c0"/>
<rect x="138" y="659" width="1" height="21" fill="#c0c0c0"/>
<rect x="146" y="662" width="1" height="18" fill="#c0c0c0"/>
<rect x="154" y="661" width="1" height="19" fill="#c0c0c0"/>
<rect x="162" y="659" width="1" height="21" fill="#c0c0c0"/>
<rect x="170" y="653" width="1" height="27" fill="#c0c0c0"/>
<rect x="178" y="646" width="1" height="34" fill="#c0c0c0"/>
<rect x="186" y="640" width="1" height="40" fill="#c0c0c0"/>
<rect x="194" y="636" width="1" height="44" fill="#c0c0c0"/>
<rect x="202" y="629" width="1" height="51" fill="#c0c0c0"/>
<rect x="210" y="624" width="1" height="56" fill="#c0c0c0"/>
<rect x="218" y="619" width="1" height="61" fill="#c0c0c0"/>
<rect x="226" y="615" width="1" height="65" fill="#c0c0c0"/>
<rect x="234" y="614" width="1" height="66" fill="#c0c0c0"/>
<rect x="242" y="613" width="1" height="67" fill="#c0c0c0"/>
<rect x="250" y="613" width="1" height="67" fill="#c0c0c0"/>
<rect x="258" y="615" width="1" height="65" fill="#c0c0c0"/>
<rect x="266" y="619" width="1" height="61" fill="#c0c0c0"/>
<rect x="274" y="622" width="1" height="58" fill="#c0c0c0"/>
<rect x="282" y="623" width="1" height="57" fill="#c0c0c0"/>
<rect x="290" y="624" width="1" height="56" fill="#c0c0c0"/>
<rect x="298" y="620" width="1" height="60" fill="#c0c0c0"/>
<rect x="306" y="618" width="1" height="62" fill="#c0c0c0"/>
<rect x="314" y="618" width="1" height="62" fill="#c0c0c0"/>
<rect x="322" y="615" width="1" height="65" fill="#c0c0c0"/>
<rect x="330" y="612" width="1" height="68" fill="#c0c0c0"/>
<rect x="338" y="609" width="1" height="71" fill="#c0c0c0"/>
<rect x="346" y="610" width="1" height="70" fill="#c0c0c0"/>
<rect x="354" y="610" width="1" height="70" fill="#c0c0c0"/>
<rect x="362" y="605" width="1" height="75" fill="#c0c0c0"/>
<rect x="370" y="614" width="1" height="66" fill="#c0c0c0"/>
<rect x="378" y="623" width="1" height="57" fill="#c0c0c0"/>
<rect x="386" y="631" width="1" height="49" fill="#c0c0c0"/>
<rect x="394" y="634" width="1" height="46" fill="#c0c0c0"/>
<rect x="402" y="648" width="1" height="32" fill="#c0c0c0"/>
<rect x="410" y="652" width="1" height="28" fill="#c0c0c0"/>
<rect x="418" y="661" width="1" height="19" fill="#c0c0c0"/>
<rect x="426" y="668" width="1" height="12" fill="#c0c0c0"/>
<rect x="434" y="671" width="1" height="9" fill="#c0c0c0"/>
<rect x="442" y="671" width="1" height="9" fill="#c0c0c0"/>
<rect x="450" y="673" width="1" height="7" fill="#c0c0c0"/>
<rect x="458" y="674" width="1" height="6" fill="#c0c0c0"/>
<rect x="466" y="676" width="1" height="4" fill="#c0c0c0"/>
<rect x="482" y="679" width="1" height="5" fill="#c0c0c0"/>
<rect x="490" y="679" width="1" height="14" fill="#c0c0c0"/>
<rect x="498" y="679" width="1" height="18" fill="#c0c0c0"/>
<rect x="506" y="679" width="1" height="30" fill="#c0c0c0"/>
<rect x="514" y="679" width="1" height="37" fill="#c0c0c0"/>
<rect x="522" y="679" width="1" height="37" fill="#c0c0c0"/>
<rect x="530" y="679" width="1" height="37" fill="#c0c0c0"/>
<rect x="538" y="679" width="1" height="32" fill="#c0c0c0"/>
<rect x="546" y="679" width="1" height="28" fill="#c0c0c0"/>
<rect x="554" y="679" width="1" height="21" fill="#c0c0c0"/>
<rect x="562" y="679" width="1" height="16" fill="#c0c0c0"/>
<rect x="570" y="679" width="1" height="13" fill="#c0c0c0"/>
<rect x="578" y="679" width="1" height="9" fill="#c0c0c0"/>
<rect x="586" y="679" width="1" height="2" fill="#c0c0c0"/>
<rect x="602" y="673" width="1" height="7" fill="#c0c0c0"/>
<rect x="610" y="665" width="1" height="15" fill="#c0c0c0"/>
<rect x="618" y="657" width="1" height="23" fill="#c0c0c0"/>
<rect x="626" y="651" width="1" height="29" fill="#c0c0c0"/>
<rect x="634" y="644" width="1" height="36" fill="#c0c0c0"/>
<rect x="642" y="640" width="1" height="40" fill="#c0c0c0"/>
<rect x="650" y="640" width="1" height="40" fill="#c0c0c0"/>
<rect x="658" y="641" width="1" height="39" fill="#c0c0c0"/>
<rect x="666" y="642" width="1" height="38" fill="#c0c0c0"/>
<rect x="674" y="642" width="1" height="38" fill="#c0c0c0"/>
<rect x="682" y="645" width="1" height="35" fill="#c0c0c0"/>
<rect x="690" y="649" width="1" height="31" fill="#c0c0c0"/>
<rect x="698" y="655" width="1" height="25" fill="#c0c0c0"/>
<rect x="706" y="657" width="1" height="23" fill="#c0c0c0"/>
<rect x="714" y="659" width="1" height="21" fill="#c0c0c0"/>
<rect x="722" y="663" width="1" height="17" fill="#c0c0c0"/>
<rect x="730" y="672" width="1" height="8" fill="#c0c0c0"/>
<rect x="738" y="679" width="1" height="5" fill="#c0c0c0"/>
<rect x="746" y="679" width="1" height="22" fill="#c0c0c0"/>
<rect x="754" y="679" width="1" height="37" fill="#c0c0c0"/>
<rect x="762" y="679" width="1" height="49" fill="#c0c0c0"/>
<rect x="770" y="679" width="1" height="58" fill="#c0c0c0"/>
<rect x="778" y="679" width="1" height="58" fill="#c0c0c0"/>
<rect x="786" y="679" width="1" height="49" fill="#c0c0c0"/>
<rect x="794" y="679" width="1" height="39" fill="#c0c0c0"/>
<rect x="802" y="679" width="1" height="25" fill="#c0c0c0"/>
<rect x="810" y="679" width="1" height="14" fill="#c0c0c0"/>
<rect x="818" y="679" width="1" height="2" fill="#c0c0c0"/>
<rect x="826" y="663" width="1" height="17" fill="#c0c0c0"/>
<rect x="834" y="647" width="1" height="33" fill="#c0c0c0"/>
<rect x="842" y="635" width="1" height="45" fill="#c0c0c0"/>
<rect x="850" y="630" width="1" height="50" fill="#c0c0c0"/>
<rect x="858" y="621" width="1" height="59" fill="#c0c0c0"/>
<rect x="866" y="613" width="1" height="67" fill="#c0c0c0"/>
<rect x="874" y="603" width="1" height="77" fill="#c0c0c0"/>
<rect x="882" y="598" width="1" height="82" fill="#c0c0c0"/>
<rect x="890" y="600" width="1" height="80" fill="#c0c0c0"/>
<rect x="898" y="605" width="1" height="75" fill="#c0c0c0"/>
<rect x="906" y="610" width="1" height="70" fill="#c0c0c0"/>
<rect x="914" y="614" width="1" height="66" fill="#c0c0c0"/>
<rect x="922" y="612" width="1" height="68" fill="#c0c0c0"/>
<rect x="930" y="606" width="1" height="74" fill="#c0c0c0"/>
<rect x="938" y="606" width="1" height="74" fill="#c0c0c0"/>
<rect x="946" y="606" width="1" height="74" fill="#c0c0c0"/>
<rect x="954" y="606" width="1" height="74" fill="#c0c0c0"/>
<rect x="962" y="608" width="1" height="72" fill="#c0c0c0"/>
<rect x="970" y="611" width="1" height="69" fill="#c0c0c0"/>
<rect x="978" y="615" width="1" height="65" fill="#c0c0c0"/>
<rect x="986" y="617" width="1" height="63" fill="#c0c0c0"/>
<rect x="994" y="618" width="1" height="62" fill="#c0c0c0"/>
<rect x="1002" y="617" width="1" height="63" fill="#c0c0c0"/>
<rect x="1010" y="616" width="1" height="64" fill="#c0c0c0"/>
<rect x="1018" y="618" width="1" height="62" fill="#c0c0c0"/>
<rect x="1026" y="619" width="1" height="61" fill="#c0c0c0"/>
<rect x="1034" y="622" width="1" height="58" fill="#c0c0c0"/>
<rect x="1042" y="625" width="1" height="55" fill="#c0c0c0"/>
<rect x="1050" y="628" width="1" height="52" fill="#c0c0c0"/>
<rect x="1058" y="629" width="1" height="51" fill="#c0c0c0"/>
<rect x="1066" y="634" width="1" height="46" fill="#c0c0c0"/>
<rect x="1074" y="636" width="1" height="44" fill="#c0c0c0"/>
<rect x="1082" y="638" width="1" height="42" fill="#c0c0c0"/>
<rect x="1090" y="639" width="1" height="41" fill="#c0c0c0"/>
<rect x="1098" y="641" width="1" height="39" fill="#c0c0c0"/>
<rect x="1106" y="643" width="1" height="37" fill="#c0c0c0"/>
<rect x="1114" y="645" width="1" height="35" fill="#c0c0c0"/>
<rect x="1122" y="649" width="1" height="31" fill="#c0c0c0"/>
<rect x="1130" y="651" width="1" height="29" fill="#c0c0c0"/>
<rect x="1138" y="652" width="1" height="28" fill="#c0c0c0"/>
<rect x="1146" y="654" width="1" height="26" fill="#c0c0c0"/>
<rect x="1154" y="652" width="1" height="28" fill="#c0c0c0"/>
<rect x="1162" y="652" width="1" height="28" fill="#c0c0c0"/>
<rect x="1170" y="652" width="1" height="28" fill="#c0c0c0"/>
<rect x="1178" y="651" width="1" height="29" fill="#c0c0c0"/>
<rect x="1186" y="652" width="1" height="28" fill="#c0c0c0"/>
<rect x="1194" y="654" width="1" height="26" fill="#c0c0c0"/>
<rect x="1202" y="656" width="1" height="24" fill="#c0c0c0"/>
<rect x="1210" y="652" width="1" height="28" fill="#c0c0c0"/>
<rect x="1218" y="645" width="1" height="35" fill="#c0c0c0"/>
<rect x="1226" y="640" width="1" height="40" fill="#c0c0c0"/>
<rect x="1234" y="638" width="1" height="42" fill="#c0c0c0"/>
<rect x="1242" y="637" width="1" height="43" fill="#c0c0c0"/>
<rect x="1250" y="636" width="1" height="44" fill="#c0c0c0"/>
<rect x="1258" y="635" width="1" height="45" fill="#c0c0c0"/>
<rect x="1266" y="636" width="1" height="44" fill="#c0c0c0"/>
<rect x="1274" y="640" width="1" height="40" fill="#c0c0c0"/>
<rect x="1282" y="645" width="1" height="35" fill="#c0c0c0"/>
<rect x="1290" y="646" width="1" height="34" fill="#c0c0c0"/>
<rect x="1298" y="647" width="1" height="33" fill="#c0c0c0"/>
<rect x="1306" y="647" width="1" height="33" fill="#c0c0c0"/>
<rect x="1314" y="645" width="1" height="35" fill="#c0c0c0"/>
<rect x="1322" y="647" width="1" height="33" fill="#c0c0c0"/>
<rect x="1330" y="648" width="1" height="32" fill="#c0c0c0"/>
<rect x="1338" y="651" width="1" height="29" fill="#c0c0c0"/>
<rect x="1346" y="653" width="1" height="27" fill="#c0c0c0"/>
<rect x="1354" y="666" width="1" height="14" fill="#c0c0c0"/>
<rect x="1362" y="671" width="1" height="9" fill="#c0c0c0"/>
<rect x="1378" y="679" width="1" height="9" fill="#c0c0c0"/>
<rect x="1386" y="679" width="1" height="16" fill="#c0c0c0"/>
<rect x="1394" y="679" width="1" height="11" fill="#c0c0c0"/>
<rect x="1402" y="679" width="1" height="7" fill="#c0c0c0"/>
<rect x="1410" y="678" width="1" height="2" fill="#c0c0c0"/>
<rect x="1418" y="671" width="1" height="9" fill="#c0c0c0"/>
<rect x="1426" y="669" width="1" height="11" fill="#c0c0c0"/>
<rect x="1434" y="662" width="1" height="18" fill="#c0c0c0"/>
</g>
<polyline points="0.0,669.4 25.4,661.3 50.9,651.6 76.3,640.4 96.6,638.4 117.0,640.4 137.3,646.0 157.7,653.7 178.0,654.9 200.9,650.6 223.8,637.1 244.1,623.7 264.5,616.8 287.4,616.8 305.2,618.6 330.6,617.6 361.1,612.5 386.6,613.5 406.9,624.4 430.0,642.1 450.3,655.6 468.1,666.3 493.6,677.7 519.0,691.7 539.4,703.2 554.6,707.0 569.9,707.0 587.7,699.9 608.0,687.9 628.4,673.9 651.3,657.4 671.6,646.0 690.7,643.4 709.8,646.5 735.2,655.6 755.5,673.9 781.0,699.4 796.2,714.6 808.9,718.4 826.7,709.5 847.1,681.6 860.0,662.5 875.3,642.1 885.4,626.9 898.1,615.4 910.9,610.3 936.3,605.3 954.1,605.8 966.8,607.8 997.3,609.1 1022.8,614.2 1053.3,619.2 1078.7,625.6 1104.1,633.2 1129.6,640.9 1149.9,646.5 1175.4,650.5 1205.9,652.3 1226.2,649.0 1254.2,642.1 1277.1,638.3 1290.0,638.3 1315.4,640.9 1335.8,643.4 1356.1,649.8 1374.0,658.7 1391.8,668.8 1404.5,676.5 1417.2,680.3 1435.0,680.3" fill="none" stroke="#ff0000" stroke-width="1" stroke-dasharray="3,3" shape-rendering="crispEdges"/>
<g shape-rendering="crispEdges">
<line x1="1" y1="783.5" x2="1684" y2="783.5" stroke="#c0c0c0" stroke-width="1" stroke-dasharray="3,3"/>
<line x1="1" y1="834.5" x2="1684" y2="834.5" stroke="#c0c0c0" stroke-width="1" stroke-dasharray="3,3"/>
<line x1="1" y1="895.5" x2="1684" y2="895.5" stroke="#c0c0c0" stroke-width="1" stroke-dasharray="3,3"/>
</g>
<polyline points="0.0,827.1 2.5,827.1 10.5,827.1 18.5,814.2 26.5,814.2 34.5,817.5 42.5,820.8 50.5,819.3 58.5,819.3 66.5,815.7 74.5,814.2 82.5,823.8 90.5,831.5 98.5,831.5 106.5,825.9 114.5,832.7 122.5,829.4 130.5,829.4 138.5,832.7 146.5,832.7 154.5,823.8 162.5,819.3 170.5,809.1 178.5,805.5 186.5,803.5 194.5,804.8 202.5,796.4 210.5,797.9 218.5,793.3 226.5,793.3 234.5,798.4 242.5,796.4 250.5,799.7 258.5,805.5 266.5,814.9 274.5,809.9 282.5,806.5 290.5,804.0 298.5,794.6 306.5,800.4 314.5,797.1 322.5,792.8 330.5,791.3 338.5,788.2 346.5,807.3 354.5,800.0 362.5,792.8 370.5,828.9 378.5,831.5 386.5,831.5 394.5,824.3 402.5,847.2 410.5,832.7 418.5,841.6 426.5,841.6 434.5,835.3 442.5,832.7 450.5,835.3 458.5,833.5 466.5,837.8 474.5,842.2 482.5,843.7 490.5,854.4 498.5,849.3 506.5,862.5 514.5,853.9 522.5,848.0 530.5,846.2 538.5,834.0 546.5,837.8 554.5,828.9 562.5,831.0 570.5,835.3 578.5,829.4 586.5,824.3 594.5,834.5 602.5,820.0 610.5,816.2 618.5,814.2 626.5,816.2 634.5,810.6 642.5,815.7 650.5,821.3 658.5,821.3 666.5,822.6 674.5,819.3 682.5,830.2 690.5,828.4 698.5,838.6 706.5,828.4 714.5,832.0 722.5,835.3 730.5,849.8 738.5,858.2 746.5,869.1 754.5,872.2 762.5,870.4 770.5,873.4 778.5,851.8 786.5,834.0 794.5,831.5 802.5,820.8 810.5,820.0 818.5,815.7 826.5,806.0 834.5,803.5 842.5,803.5 850.5,812.4 858.5,805.5 866.5,802.2 874.5,798.9 882.5,803.0 890.5,814.2 898.5,820.0 906.5,821.3 914.5,819.3 922.5,809.1 930.5,804.8 938.5,810.6 946.5,813.2 954.5,811.1 962.5,811.1 970.5,817.5 978.5,816.2 986.5,814.2 994.5,811.1 1002.5,806.0 1010.5,805.5 1018.5,814.9 1026.5,810.6 1034.5,814.9 1042.5,816.2 1050.5,816.2 1058.5,812.4 1066.5,824.3 1074.5,818.2 1082.5,819.3 1090.5,816.2 1098.5,818.2 1106.5,818.8 1114.5,822.6 1122.5,827.7 1130.5,824.3 1138.5,823.3 1146.5,820.0 1154.5,811.6 1162.5,818.2 1170.5,814.2 1178.5,809.9 1186.5,808.1 1194.5,832.0 1202.5,826.9 1210.5,808.1 1218.5,803.5 1226.5,801.5 1234.5,807.3 1242.5,807.3 1250.5,805.5 1258.5,806.5 1266.5,809.9 1274.5,826.4 1282.5,825.0 1290.5,820.0 1298.5,815.3 1306.5,808.8 1314.5,810.9 1322.5,819.4 1330.5,818.1 1338.5,825.3 1346.5,825.3 1354.5,859.9 1362.5,841.3 1370.5,856.7 1378.5,859.9 1386.5,844.7 1394.5,830.6 1402.5,829.6 1410.5,822.1 1418.5,820.2 1426.5,820.2 1434.5,816.3" fill="none" stroke="#1e90ff" stroke-width="1" shape-rendering="crispEdges"/>
<rect x="1685" y="122" width="2" height="1" fill="#000"/>
<text transform="translate(1690,126) scale(0.91,1)" font-size="10" fill="#000" text-anchor="start" font-weight="normal" style="font-family:"Liberation Sans",sans-serif" >30442.0</text>
<rect x="1685" y="155" width="2" height="1" fill="#000"/>
<text transform="translate(1690,159) scale(0.91,1)" font-size="10" fill="#000" text-anchor="start" font-weight="normal" style="font-family:"Liberation Sans",sans-serif" >30068.0</text>
<rect x="1685" y="188" width="2" height="1" fill="#000"/>
<text transform="translate(1690,192) scale(0.91,1)" font-size="10" fill="#000" text-anchor="start" font-weight="normal" style="font-family:"Liberation Sans",sans-serif" >29694.0</text>
<rect x="1685" y="221" width="2" height="1" fill="#000"/>
<text transform="translate(1690,225) scale(0.91,1)" font-size="10" fill="#000" text-anchor="start" font-weight="normal" style="font-family:"Liberation Sans",sans-serif" >29309.0</text>
<rect x="1685" y="254" width="2" height="1" fill="#000"/>
<text transform="translate(1690,258) scale(0.91,1)" font-size="10" fill="#000" text-anchor="start" font-weight="normal" style="font-family:"Liberation Sans",sans-serif" >28935.0</text>
<rect x="1685" y="287" width="2" height="1" fill="#000"/>
<text transform="translate(1690,291) scale(0.91,1)" font-size="10" fill="#000" text-anchor="start" font-weight="normal" style="font-family:"Liberation Sans",sans-serif" >28561.0</text>
<rect x="1685" y="320" width="2" height="1" fill="#000"/>
<text transform="translate(1690,324) scale(0.91,1)" font-size="10" fill="#000" text-anchor="start" font-weight="normal" style="font-family:"Liberation Sans",sans-serif" >28187.0</text>
<rect x="1685" y="354" width="2" height="1" fill="#000"/>
<text transform="translate(1690,358) scale(0.91,1)" font-size="10" fill="#000" text-anchor="start" font-weight="normal" style="font-family:"Liberation Sans",sans-serif" >27802.0</text>
<rect x="1685" y="387" width="2" height="1" fill="#000"/>
<text transform="translate(1690,391) scale(0.91,1)" font-size="10" fill="#000" text-anchor="start" font-weight="normal" style="font-family:"Liberation Sans",sans-serif" >27428.0</text>
<rect x="1685" y="420" width="2" height="1" fill="#000"/>
<text transform="translate(1690,424) scale(0.91,1)" font-size="10" fill="#000" text-anchor="start" font-weight="normal" style="font-family:"Liberation Sans",sans-serif" >27054.0</text>
<rect x="1685" y="452" width="2" height="1" fill="#000"/>
<text transform="translate(1690,456) scale(0.91,1)" font-size="10" fill="#000" text-anchor="start" font-weight="normal" style="font-family:"Liberation Sans",sans-serif" >26680.0</text>
<rect x="1685" y="486" width="2" height="1" fill="#000"/>
<text transform="translate(1690,490) scale(0.91,1)" font-size="10" fill="#000" text-anchor="start" font-weight="normal" style="font-family:"Liberation Sans",sans-serif" >26295.0</text>
<rect x="1685" y="519" width="2" height="1" fill="#000"/>
<text transform="translate(1690,523) scale(0.91,1)" font-size="10" fill="#000" text-anchor="start" font-weight="normal" style="font-family:"Liberation Sans",sans-serif" >25921.0</text>
<rect x="1685" y="552" width="2" height="1" fill="#000"/>
<text transform="translate(1690,556) scale(0.91,1)" font-size="10" fill="#000" text-anchor="start" font-weight="normal" style="font-family:"Liberation Sans",sans-serif" >25547.0</text>
<rect x="1685" y="584" width="2" height="1" fill="#000"/>
<text transform="translate(1690,588) scale(0.91,1)" font-size="10" fill="#000" text-anchor="start" font-weight="normal" style="font-family:"Liberation Sans",sans-serif" >25173.0</text>
<rect x="1686" y="18" width="41" height="10" fill="#ff0000"/>
<text transform="translate(1690,27) scale(0.91,1)" font-size="10" fill="#fff" text-anchor="start" font-weight="normal" style="font-family:"Liberation Sans",sans-serif" >31570.2</text>
<rect x="1686" y="30" width="41" height="11" fill="#ff0000"/>
<text transform="translate(1690,39) scale(0.91,1)" font-size="10" fill="#fff" text-anchor="start" font-weight="normal" style="font-family:"Liberation Sans",sans-serif" >31424.0</text>
<rect x="1686" y="43" width="41" height="11" fill="#000000"/>
<text transform="translate(1690,52) scale(0.91,1)" font-size="10" fill="#fff" text-anchor="start" font-weight="normal" style="font-family:"Liberation Sans",sans-serif" >31285.0</text>
<rect x="1686" y="50" width="41" height="11" fill="#32cd32"/>
<text transform="translate(1690,59) scale(0.91,1)" font-size="10" fill="#fff" text-anchor="start" font-weight="normal" style="font-family:"Liberation Sans",sans-serif" >31194.0</text>
<rect x="1686" y="66" width="41" height="11" fill="#0000ff"/>
<text transform="translate(1690,75) scale(0.91,1)" font-size="10" fill="#fff" text-anchor="start" font-weight="normal" style="font-family:"Liberation Sans",sans-serif" >31011.5</text>
<rect x="1686" y="82" width="41" height="11" fill="#0000ff"/>
<text transform="translate(1690,91) scale(0.91,1)" font-size="10" fill="#fff" text-anchor="start" font-weight="normal" style="font-family:"Liberation Sans",sans-serif" >30830.6</text>
<rect x="1679.5" y="21.5" width="4" height="4" fill="#fff" stroke="#ff0000"/>
<rect x="1679.5" y="70.5" width="4" height="4" fill="#fff" stroke="#0000ff"/>
<rect x="1685" y="591" width="2" height="1" fill="#000"/>
<rect x="1685" y="679" width="2" height="1" fill="#000"/>
<rect x="1685" y="744" width="2" height="1" fill="#000"/>
<text transform="translate(1688,600) scale(0.91,1)" font-size="10" fill="#000" text-anchor="start" font-weight="normal" style="font-family:"Liberation Sans",sans-serif" >565.66</text>
<text transform="translate(1688,683) scale(0.91,1)" font-size="10" fill="#000" text-anchor="start" font-weight="normal" style="font-family:"Liberation Sans",sans-serif" >0.00</text>
<text transform="translate(1688,742) scale(0.91,1)" font-size="10" fill="#000" text-anchor="start" font-weight="normal" style="font-family:"Liberation Sans",sans-serif" >-419.33</text>
<rect x="1685" y="749" width="2" height="1" fill="#000"/>
<text transform="translate(1688,758) scale(0.91,1)" font-size="10" fill="#000" text-anchor="start" font-weight="normal" style="font-family:"Liberation Sans",sans-serif" >100</text>
<rect x="1685" y="783" width="2" height="1" fill="#000"/>
<text transform="translate(1688,787.5) scale(0.91,1)" font-size="10" fill="#000" text-anchor="start" font-weight="normal" style="font-family:"Liberation Sans",sans-serif" >80</text>
<rect x="1685" y="834" width="2" height="1" fill="#000"/>
<text transform="translate(1688,838.5) scale(0.91,1)" font-size="10" fill="#000" text-anchor="start" font-weight="normal" style="font-family:"Liberation Sans",sans-serif" >50</text>
<rect x="1685" y="895" width="2" height="1" fill="#000"/>
<text transform="translate(1688,899.5) scale(0.91,1)" font-size="10" fill="#000" text-anchor="start" font-weight="normal" style="font-family:"Liberation Sans",sans-serif" >15</text>
<rect x="1685" y="918" width="2" height="1" fill="#000"/>
<text transform="translate(1688,918) scale(0.91,1)" font-size="10" fill="#000" text-anchor="start" font-weight="normal" style="font-family:"Liberation Sans",sans-serif" >0</text>
<rect x="58" y="922" width="1" height="3" fill="#000"/>
<text transform="translate(57,934) scale(0.91,1)" font-size="10" fill="#000" text-anchor="start" font-weight="normal" style="font-family:"Liberation Sans",sans-serif" >20 Jul 2020</text>
<rect x="122" y="922" width="1" height="3" fill="#000"/>
<text transform="translate(121,934) scale(0.91,1)" font-size="10" fill="#000" text-anchor="start" font-weight="normal" style="font-family:"Liberation Sans",sans-serif" >29 Jul 2020</text>
<rect x="186" y="922" width="1" height="3" fill="#000"/>
<text transform="translate(185,934) scale(0.91,1)" font-size="10" fill="#000" text-anchor="start" font-weight="normal" style="font-family:"Liberation Sans",sans-serif" >7 Aug 2020</text>
<rect x="250" y="922" width="1" height="3" fill="#000"/>
<text transform="translate(249,934) scale(0.91,1)" font-size="10" fill="#000" text-anchor="start" font-weight="normal" style="font-family:"Liberation Sans",sans-serif" >17 Aug 2020</text>
<rect x="314" y="922" width="1" height="3" fill="#000"/>
<text transform="translate(313,934) scale(0.91,1)" font-size="10" fill="#000" text-anchor="start" font-weight="normal" style="font-family:"Liberation Sans",sans-serif" >26 Aug 2020</text>
<rect x="378" y="922" width="1" height="3" fill="#000"/>
<text transform="translate(377,934) scale(0.91,1)" font-size="10" fill="#000" text-anchor="start" font-weight="normal" style="font-family:"Liberation Sans",sans-serif" >4 Sep 2020</text>
<rect x="442" y="922" width="1" height="3" fill="#000"/>
<text transform="translate(441,934) scale(0.91,1)" font-size="10" fill="#000" text-anchor="start" font-weight="normal" style="font-family:"Liberation Sans",sans-serif" >14 Sep 2020</text>
<rect x="506" y="922" width="1" height="3" fill="#000"/>
<text transform="translate(505,934) scale(0.91,1)" font-size="10" fill="#000" text-anchor="start" font-weight="normal" style="font-family:"Liberation Sans",sans-serif" >23 Sep 2020</text>
<rect x="570" y="922" width="1" height="3" fill="#000"/>
<text transform="translate(569,934) scale(0.91,1)" font-size="10" fill="#000" text-anchor="start" font-weight="normal" style="font-family:"Liberation Sans",sans-serif" >2 Oct 2020</text>
<rect x="634" y="922" width="1" height="3" fill="#000"/>
<text transform="translate(633,934) scale(0.91,1)" font-size="10" fill="#000" text-anchor="start" font-weight="normal" style="font-family:"Liberation Sans",sans-serif" >12 Oct 2020</text>
<rect x="698" y="922" width="1" height="3" fill="#000"/>
<text transform="translate(697,934) scale(0.91,1)" font-size="10" fill="#000" text-anchor="start" font-weight="normal" style="font-family:"Liberation Sans",sans-serif" >21 Oct 2020</text>
<rect x="762" y="922" width="1" height="3" fill="#000"/>
<text transform="translate(761,934) scale(0.91,1)" font-size="10" fill="#000" text-anchor="start" font-weight="normal" style="font-family:"Liberation Sans",sans-serif" >30 Oct 2020</text>
<rect x="826" y="922" width="1" height="3" fill="#000"/>
<text transform="translate(825,934) scale(0.91,1)" font-size="10" fill="#000" text-anchor="start" font-weight="normal" style="font-family:"Liberation Sans",sans-serif" >9 Nov 2020</text>
<rect x="890" y="922" width="1" height="3" fill="#000"/>
<text transform="translate(889,934) scale(0.91,1)" font-size="10" fill="#000" text-anchor="start" font-weight="normal" style="font-family:"Liberation Sans",sans-serif" >18 Nov 2020</text>
<rect x="954" y="922" width="1" height="3" fill="#000"/>
<text transform="translate(953,934) scale(0.91,1)" font-size="10" fill="#000" text-anchor="start" font-weight="normal" style="font-family:"Liberation Sans",sans-serif" >27 Nov 2020</text>
<rect x="1018" y="922" width="1" height="3" fill="#000"/>
<text transform="translate(1017,934) scale(0.91,1)" font-size="10" fill="#000" text-anchor="start" font-weight="normal" style="font-family:"Liberation Sans",sans-serif" >7 Dec 2020</text>
<rect x="1082" y="922" width="1" height="3" fill="#000"/>
<text transform="translate(1081,934) scale(0.91,1)" font-size="10" fill="#000" text-anchor="start" font-weight="normal" style="font-family:"Liberation Sans",sans-serif" >16 Dec 2020</text>
<rect x="1146" y="922" width="1" height="3" fill="#000"/>
<text transform="translate(1145,934) scale(0.91,1)" font-size="10" fill="#000" text-anchor="start" font-weight="normal" style="font-family:"Liberation Sans",sans-serif" >27 Dec 2020</text>
<rect x="1210" y="922" width="1" height="3" fill="#000"/>
<text transform="translate(1209,934) scale(0.91,1)" font-size="10" fill="#000" text-anchor="start" font-weight="normal" style="font-family:"Liberation Sans",sans-serif" >6 Jan 2021</text>
<rect x="1274" y="922" width="1" height="3" fill="#000"/>
<text transform="translate(1273,934) scale(0.91,1)" font-size="10" fill="#000" text-anchor="start" font-weight="normal" style="font-family:"Liberation Sans",sans-serif" >15 Jan 2021</text>
<rect x="1338" y="922" width="1" height="3" fill="#000"/>
<text transform="translate(1337,934) scale(0.91,1)" font-size="10" fill="#000" text-anchor="start" font-weight="normal" style="font-family:"Liberation Sans",sans-serif" >25 Jan 2021</text>
<rect x="1402" y="922" width="1" height="3" fill="#000"/>
<text transform="translate(1401,934) scale(0.91,1)" font-size="10" fill="#000" text-anchor="start" font-weight="normal" style="font-family:"Liberation Sans",sans-serif" >3 Feb 2021</text>
<text transform="translate(-7,934) scale(0.91,1)" font-size="10" fill="#000" text-anchor="start" font-weight="normal" style="font-family:"Liberation Sans",sans-serif" >10 Jul 2020</text>
<text transform="translate(0,28) scale(0.91,1)" font-size="10" fill="#000" text-anchor="start" font-weight="normal" style="font-family:"Liberation Sans",sans-serif" ></text>
<text transform="translate(-1,602) scale(0.93,1)" font-size="10" fill="#000" text-anchor="start" font-weight="normal" style="font-family:"Liberation Sans",sans-serif" >MACD(12,26,9) 117.67 -8.14</text>
<text transform="translate(-1,760) scale(0.91,1)" font-size="10" fill="#000" text-anchor="start" font-weight="normal" style="font-family:"Liberation Sans",sans-serif" >RSI(14) 61.4987</text>
<rect x="291" y="243" width="0" height="0" fill="none"/>
<rect x="291" y="224" width="63" height="19" fill="#fff"/>
<rect x="291.5" y="224.5" width="62" height="18" fill="none" stroke="#ff0000" stroke-width="1"/>
<rect x="353" y="233" width="10" height="1" fill="#ff0000"/>
<text transform="translate(323.0,240) scale(0.96,1)" font-size="17" fill="#ff0000" text-anchor="middle" font-weight="normal" style="font-family:"Liberation Sans",sans-serif" >29172.3</text>
<rect x="691" y="526" width="0" height="0" fill="none"/>
<rect x="691" y="507" width="62" height="19" fill="#fff"/>
<rect x="691.5" y="507.5" width="61" height="18" fill="none" stroke="#ff0000" stroke-width="1"/>
<rect x="752" y="516" width="11" height="1" fill="#ff0000"/>
<text transform="translate(722.5,523) scale(0.96,1)" font-size="17" fill="#ff0000" text-anchor="middle" font-weight="normal" style="font-family:"Liberation Sans",sans-serif" >25948.6</text>
<rect x="1043" y="231" width="0" height="0" fill="none"/>
<rect x="1043" y="212" width="62" height="19" fill="#fff"/>
<rect x="1043.5" y="212.5" width="61" height="18" fill="none" stroke="#ff0000" stroke-width="1"/>
<rect x="1104" y="221" width="10" height="1" fill="#ff0000"/>
<text transform="translate(1074.5,228) scale(0.96,1)" font-size="17" fill="#ff0000" text-anchor="middle" font-weight="normal" style="font-family:"Liberation Sans",sans-serif" >29313.3</text>
<rect x="1243" y="68" width="0" height="0" fill="none"/>
<rect x="1243" y="49" width="62" height="19" fill="#fff"/>
<rect x="1243.5" y="49.5" width="61" height="18" fill="none" stroke="#ff0000" stroke-width="1"/>
<rect x="1304" y="57" width="11" height="1" fill="#ff0000"/>
<text transform="translate(1274.5,65) scale(0.96,1)" font-size="17" fill="#ff0000" text-anchor="middle" font-weight="normal" style="font-family:"Liberation Sans",sans-serif" >31177.6</text>
<rect x="1307" y="211" width="0" height="0" fill="none"/>
<rect x="1307" y="192" width="62" height="19" fill="#fff"/>
<rect x="1307.5" y="192.5" width="61" height="18" fill="none" stroke="#ff0000" stroke-width="1"/>
<rect x="1368" y="201" width="10" height="1" fill="#ff0000"/>
<text transform="translate(1338.5,208) scale(0.96,1)" font-size="17" fill="#ff0000" text-anchor="middle" font-weight="normal" style="font-family:"Liberation Sans",sans-serif" >29543.1</text>
<rect x="1101" y="44" width="74" height="25" fill="#fff"/>
<rect x="1101.5" y="44.5" width="73" height="24" fill="none" stroke="#ff0000" stroke-width="1.2"/>
<rect x="1090" y="56" width="8" height="1" fill="#ff0000"/>
<rect x="1098.5" y="54.5" width="2" height="3" fill="#fff" stroke="#ff0000"/>
<text transform="translate(1138,65) scale(0.9,1)" font-size="23" fill="#ff0000" text-anchor="middle" font-weight="normal" style="font-family:"Liberation Sans",sans-serif" >31194.0</text>
<g fill="#ff0000" stroke="none">
<path d="M1314.4,59.7 L1371.9,187.7 L1368.9,189.0 L1378.0,197.0 L1378.1,184.9 L1375.1,186.2 L1317.6,58.3 Z"/>
<path d="M1379.6,195.7 L1446.6,47.8 L1449.5,49.1 L1449.5,37.0 L1440.4,45.0 L1443.3,46.3 L1376.4,194.3 Z"/>
<path d="M1300.0,643.6 L1369.1,685.4 L1367.5,688.1 L1379.5,689.5 L1372.7,679.5 L1371.0,682.2 L1302.0,640.4 Z"/>
<path d="M1380.1,691.3 L1445.2,669.5 L1446.1,672.5 L1455.0,664.3 L1443.0,663.0 L1444.0,666.0 L1378.9,687.7 Z"/>
<path d="M1287.9,798.6 L1362.0,849.7 L1360.0,852.7 L1373.0,855.0 L1366.3,843.7 L1364.2,846.6 L1290.1,795.4 Z"/>
<path d="M1373.9,856.7 L1434.3,824.6 L1436.0,827.8 L1444.0,817.3 L1430.8,818.1 L1432.5,821.2 L1372.1,853.3 Z"/>
</g>
<rect x="1374" y="50" width="125" height="6" fill="#00e000"/>
<path d="M1442,21 L1451,21 L1446.5,25.5 Z" fill="#b4b4b4"/>
<text transform="translate(1460,117) scale(1,1)" font-size="21" fill="#00f000" text-anchor="start" font-weight="normal" style="font-family:"Liberation Sans",sans-serif" letter-spacing="0.5">多空转折点</text>
<path d="M0,27 L4,31 L0,31 Z" fill="#000"/>
<text transform="translate(9,32) scale(0.933,1)" font-size="10" fill="#000" text-anchor="start" font-weight="normal" style="font-family:"Liberation Sans",sans-serif" >DJ30-,Daily  31077.0 31292.0 31047.0 31285.0</text>
<rect x="0" y="38" width="218" height="68" fill="#fff"/>
<defs><linearGradient id="gTop" x1="0" y1="0" x2="0" y2="1"><stop offset="0" stop-color="#f85454"/><stop offset="1" stop-color="#d42a2a"/></linearGradient><linearGradient id="gBot" x1="0" y1="0" x2="0" y2="1"><stop offset="0" stop-color="#dc3030"/><stop offset="1" stop-color="#a80000"/></linearGradient><linearGradient id="gBtn" x1="0" y1="0" x2="0" y2="1"><stop offset="0" stop-color="#f4f4f4"/><stop offset="1" stop-color="#d4d4d4"/></linearGradient></defs>
<rect x="0" y="40" width="49" height="25" fill="url(#gTop)"/>
<rect x="164" y="40" width="52" height="25" fill="url(#gTop)"/>
<rect x="0" y="64" width="106" height="40" fill="url(#gBot)"/>
<rect x="108" y="64" width="108" height="40" fill="url(#gBot)"/>
<rect x="164" y="64" width="52" height="2" fill="#d83030"/>
<path d="M164.5,64 L164.5,40.5 L215.5,40.5 L215.5,103.5 L108,103.5" fill="none" stroke="#b00000" stroke-width="1"/>
<path d="M0,40.5 L48.5,40.5 L48.5,64" fill="none" stroke="#c01010" stroke-width="1"/>
<rect x="1" y="63" width="44" height="1" fill="#a80000"/><rect x="1" y="64" width="44" height="1" fill="#f07070"/>
<rect x="168" y="63" width="44" height="1" fill="#700000"/><rect x="168" y="64" width="44" height="1" fill="#f07070"/>
<rect x="51" y="40" width="111" height="22" fill="#fff"/>
<rect x="51.5" y="40.5" width="110" height="21" fill="none" stroke="#a0a0a0"/>
<rect x="53" y="42" width="18" height="18" fill="url(#gBtn)" stroke="#b8b8b8"/>
<rect x="141" y="42" width="19" height="18" fill="url(#gBtn)" stroke="#b8b8b8"/>
<path d="M59,49 L64,49 L61.5,52 Z" fill="#4a5ac0"/>
<path d="M148,52 L153,52 L150.5,49 Z" fill="#4a5ac0"/>
<text transform="translate(137,56) scale(0.95,1)" font-size="13" fill="#000" text-anchor="end" font-weight="normal" style="font-family:"Liberation Sans",sans-serif" >1.00</text>
<text transform="translate(8,56) scale(0.95,1)" font-size="12" fill="#fff" text-anchor="start" font-weight="normal" style="font-family:"Liberation Sans",sans-serif" >SELL</text>
<text transform="translate(177,56) scale(0.95,1)" font-size="12" fill="#fff" text-anchor="start" font-weight="normal" style="font-family:"Liberation Sans",sans-serif" >BUY</text>
<text transform="translate(13,95) scale(0.94,1)" font-size="13" fill="#fff" text-anchor="start" font-weight="bold" style="font-family:"Liberation Sans",sans-serif" >31283</text>
<text transform="translate(51.5,95) scale(1,1)" font-size="17" fill="#fff" text-anchor="start" font-weight="bold" style="font-family:"Liberation Sans",sans-serif" >.</text>
<text transform="translate(59.5,95) scale(0.86,1)" font-size="33" fill="#fff" text-anchor="start" font-weight="normal" style="font-family:"Liberation Sans",sans-serif" >5</text>
<text transform="translate(123,95) scale(0.94,1)" font-size="13" fill="#fff" text-anchor="start" font-weight="bold" style="font-family:"Liberation Sans",sans-serif" >31293</text>
<text transform="translate(161.5,95) scale(1,1)" font-size="17" fill="#fff" text-anchor="start" font-weight="bold" style="font-family:"Liberation Sans",sans-serif" >.</text>
<text transform="translate(169.5,95) scale(0.86,1)" font-size="33" fill="#fff" text-anchor="start" font-weight="normal" style="font-family:"Liberation Sans",sans-serif" >5</text>
</svg></body></html>
